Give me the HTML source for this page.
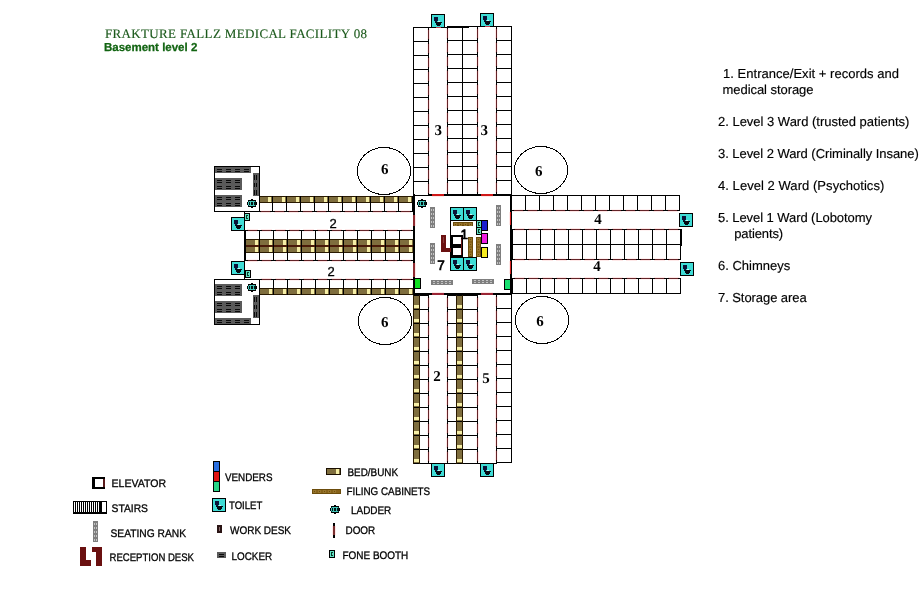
<!DOCTYPE html>
<html lang="en">
<head>
<meta charset="utf-8">
<title>Frakture Fallz Medical Facility 08 - Basement level 2</title>
<style>
html,body{margin:0;padding:0;background:#fff;}
body{width:922px;height:602px;overflow:hidden;}
svg{display:block;will-change:transform;}
svg rect,svg path{shape-rendering:crispEdges;}
svg text{text-rendering:geometricPrecision;}
</style>
</head>
<body>
<svg width="922" height="602" viewBox="0 0 922 602">
<rect x="0" y="0" width="922" height="602" fill="#ffffff"/>
<g id="map">
<rect x="413" y="27" width="16" height="1" fill="#000"/>
<rect x="413" y="41" width="16" height="1" fill="#000"/>
<rect x="413" y="55" width="16" height="1" fill="#000"/>
<rect x="413" y="69" width="16" height="1" fill="#000"/>
<rect x="413" y="83" width="16" height="1" fill="#000"/>
<rect x="413" y="97" width="16" height="1" fill="#000"/>
<rect x="413" y="111" width="16" height="1" fill="#000"/>
<rect x="413" y="125" width="16" height="1" fill="#000"/>
<rect x="413" y="139" width="16" height="1" fill="#000"/>
<rect x="413" y="153" width="16" height="1" fill="#000"/>
<rect x="413" y="167" width="16" height="1" fill="#000"/>
<rect x="413" y="181" width="16" height="1" fill="#000"/>
<rect x="413" y="195" width="16" height="1" fill="#000"/>
<rect x="413" y="27" width="1" height="169" fill="#000"/>
<rect x="428" y="27" width="1" height="169" fill="#000"/>
<rect x="427" y="29" width="1" height="11" fill="#fff2f2"/>
<rect x="429" y="29" width="1" height="11" fill="#ffe8e8"/>
<rect x="428" y="30" width="1" height="9" fill="#642428"/>
<rect x="427" y="43" width="1" height="11" fill="#fff2f2"/>
<rect x="429" y="43" width="1" height="11" fill="#ffe8e8"/>
<rect x="428" y="44" width="1" height="9" fill="#642428"/>
<rect x="427" y="57" width="1" height="11" fill="#fff2f2"/>
<rect x="429" y="57" width="1" height="11" fill="#ffe8e8"/>
<rect x="428" y="58" width="1" height="9" fill="#642428"/>
<rect x="427" y="71" width="1" height="11" fill="#fff2f2"/>
<rect x="429" y="71" width="1" height="11" fill="#ffe8e8"/>
<rect x="428" y="72" width="1" height="9" fill="#642428"/>
<rect x="427" y="85" width="1" height="11" fill="#fff2f2"/>
<rect x="429" y="85" width="1" height="11" fill="#ffe8e8"/>
<rect x="428" y="86" width="1" height="9" fill="#642428"/>
<rect x="427" y="99" width="1" height="11" fill="#fff2f2"/>
<rect x="429" y="99" width="1" height="11" fill="#ffe8e8"/>
<rect x="428" y="100" width="1" height="9" fill="#642428"/>
<rect x="427" y="113" width="1" height="11" fill="#fff2f2"/>
<rect x="429" y="113" width="1" height="11" fill="#ffe8e8"/>
<rect x="428" y="114" width="1" height="9" fill="#642428"/>
<rect x="427" y="127" width="1" height="11" fill="#fff2f2"/>
<rect x="429" y="127" width="1" height="11" fill="#ffe8e8"/>
<rect x="428" y="128" width="1" height="9" fill="#642428"/>
<rect x="427" y="141" width="1" height="11" fill="#fff2f2"/>
<rect x="429" y="141" width="1" height="11" fill="#ffe8e8"/>
<rect x="428" y="142" width="1" height="9" fill="#642428"/>
<rect x="427" y="155" width="1" height="11" fill="#fff2f2"/>
<rect x="429" y="155" width="1" height="11" fill="#ffe8e8"/>
<rect x="428" y="156" width="1" height="9" fill="#642428"/>
<rect x="427" y="169" width="1" height="11" fill="#fff2f2"/>
<rect x="429" y="169" width="1" height="11" fill="#ffe8e8"/>
<rect x="428" y="170" width="1" height="9" fill="#642428"/>
<rect x="427" y="183" width="1" height="11" fill="#fff2f2"/>
<rect x="429" y="183" width="1" height="11" fill="#ffe8e8"/>
<rect x="428" y="184" width="1" height="9" fill="#642428"/>
<rect x="447" y="26" width="31" height="1" fill="#000"/>
<rect x="447" y="40" width="31" height="1" fill="#000"/>
<rect x="447" y="54" width="31" height="1" fill="#000"/>
<rect x="447" y="68" width="31" height="1" fill="#000"/>
<rect x="447" y="82" width="31" height="1" fill="#000"/>
<rect x="447" y="96" width="31" height="1" fill="#000"/>
<rect x="447" y="110" width="31" height="1" fill="#000"/>
<rect x="447" y="124" width="31" height="1" fill="#000"/>
<rect x="447" y="138" width="31" height="1" fill="#000"/>
<rect x="447" y="152" width="31" height="1" fill="#000"/>
<rect x="447" y="166" width="31" height="1" fill="#000"/>
<rect x="447" y="180" width="31" height="1" fill="#000"/>
<rect x="447" y="194" width="31" height="1" fill="#000"/>
<rect x="447" y="27" width="22" height="1" fill="#000"/>
<rect x="447" y="26" width="1" height="169" fill="#000"/>
<rect x="446" y="28" width="1" height="11" fill="#ffe8e8"/>
<rect x="448" y="28" width="1" height="11" fill="#fff2f2"/>
<rect x="447" y="29" width="1" height="9" fill="#642428"/>
<rect x="446" y="42" width="1" height="11" fill="#ffe8e8"/>
<rect x="448" y="42" width="1" height="11" fill="#fff2f2"/>
<rect x="447" y="43" width="1" height="9" fill="#642428"/>
<rect x="446" y="56" width="1" height="11" fill="#ffe8e8"/>
<rect x="448" y="56" width="1" height="11" fill="#fff2f2"/>
<rect x="447" y="57" width="1" height="9" fill="#642428"/>
<rect x="446" y="70" width="1" height="11" fill="#ffe8e8"/>
<rect x="448" y="70" width="1" height="11" fill="#fff2f2"/>
<rect x="447" y="71" width="1" height="9" fill="#642428"/>
<rect x="446" y="84" width="1" height="11" fill="#ffe8e8"/>
<rect x="448" y="84" width="1" height="11" fill="#fff2f2"/>
<rect x="447" y="85" width="1" height="9" fill="#642428"/>
<rect x="446" y="98" width="1" height="11" fill="#ffe8e8"/>
<rect x="448" y="98" width="1" height="11" fill="#fff2f2"/>
<rect x="447" y="99" width="1" height="9" fill="#642428"/>
<rect x="446" y="112" width="1" height="11" fill="#ffe8e8"/>
<rect x="448" y="112" width="1" height="11" fill="#fff2f2"/>
<rect x="447" y="113" width="1" height="9" fill="#642428"/>
<rect x="446" y="126" width="1" height="11" fill="#ffe8e8"/>
<rect x="448" y="126" width="1" height="11" fill="#fff2f2"/>
<rect x="447" y="127" width="1" height="9" fill="#642428"/>
<rect x="446" y="140" width="1" height="11" fill="#ffe8e8"/>
<rect x="448" y="140" width="1" height="11" fill="#fff2f2"/>
<rect x="447" y="141" width="1" height="9" fill="#642428"/>
<rect x="446" y="154" width="1" height="11" fill="#ffe8e8"/>
<rect x="448" y="154" width="1" height="11" fill="#fff2f2"/>
<rect x="447" y="155" width="1" height="9" fill="#642428"/>
<rect x="446" y="168" width="1" height="11" fill="#ffe8e8"/>
<rect x="448" y="168" width="1" height="11" fill="#fff2f2"/>
<rect x="447" y="169" width="1" height="9" fill="#642428"/>
<rect x="446" y="182" width="1" height="11" fill="#ffe8e8"/>
<rect x="448" y="182" width="1" height="11" fill="#fff2f2"/>
<rect x="447" y="183" width="1" height="9" fill="#642428"/>
<rect x="462" y="26" width="1" height="169" fill="#000"/>
<rect x="477" y="26" width="1" height="169" fill="#000"/>
<rect x="476" y="28" width="1" height="11" fill="#fff2f2"/>
<rect x="478" y="28" width="1" height="11" fill="#ffe8e8"/>
<rect x="477" y="29" width="1" height="9" fill="#642428"/>
<rect x="476" y="42" width="1" height="11" fill="#fff2f2"/>
<rect x="478" y="42" width="1" height="11" fill="#ffe8e8"/>
<rect x="477" y="43" width="1" height="9" fill="#642428"/>
<rect x="476" y="56" width="1" height="11" fill="#fff2f2"/>
<rect x="478" y="56" width="1" height="11" fill="#ffe8e8"/>
<rect x="477" y="57" width="1" height="9" fill="#642428"/>
<rect x="476" y="70" width="1" height="11" fill="#fff2f2"/>
<rect x="478" y="70" width="1" height="11" fill="#ffe8e8"/>
<rect x="477" y="71" width="1" height="9" fill="#642428"/>
<rect x="476" y="84" width="1" height="11" fill="#fff2f2"/>
<rect x="478" y="84" width="1" height="11" fill="#ffe8e8"/>
<rect x="477" y="85" width="1" height="9" fill="#642428"/>
<rect x="476" y="98" width="1" height="11" fill="#fff2f2"/>
<rect x="478" y="98" width="1" height="11" fill="#ffe8e8"/>
<rect x="477" y="99" width="1" height="9" fill="#642428"/>
<rect x="476" y="112" width="1" height="11" fill="#fff2f2"/>
<rect x="478" y="112" width="1" height="11" fill="#ffe8e8"/>
<rect x="477" y="113" width="1" height="9" fill="#642428"/>
<rect x="476" y="126" width="1" height="11" fill="#fff2f2"/>
<rect x="478" y="126" width="1" height="11" fill="#ffe8e8"/>
<rect x="477" y="127" width="1" height="9" fill="#642428"/>
<rect x="476" y="140" width="1" height="11" fill="#fff2f2"/>
<rect x="478" y="140" width="1" height="11" fill="#ffe8e8"/>
<rect x="477" y="141" width="1" height="9" fill="#642428"/>
<rect x="476" y="154" width="1" height="11" fill="#fff2f2"/>
<rect x="478" y="154" width="1" height="11" fill="#ffe8e8"/>
<rect x="477" y="155" width="1" height="9" fill="#642428"/>
<rect x="476" y="168" width="1" height="11" fill="#fff2f2"/>
<rect x="478" y="168" width="1" height="11" fill="#ffe8e8"/>
<rect x="477" y="169" width="1" height="9" fill="#642428"/>
<rect x="476" y="182" width="1" height="11" fill="#fff2f2"/>
<rect x="478" y="182" width="1" height="11" fill="#ffe8e8"/>
<rect x="477" y="183" width="1" height="9" fill="#642428"/>
<rect x="496" y="26" width="16" height="1" fill="#000"/>
<rect x="496" y="40" width="16" height="1" fill="#000"/>
<rect x="496" y="54" width="16" height="1" fill="#000"/>
<rect x="496" y="68" width="16" height="1" fill="#000"/>
<rect x="496" y="82" width="16" height="1" fill="#000"/>
<rect x="496" y="96" width="16" height="1" fill="#000"/>
<rect x="496" y="110" width="16" height="1" fill="#000"/>
<rect x="496" y="124" width="16" height="1" fill="#000"/>
<rect x="496" y="138" width="16" height="1" fill="#000"/>
<rect x="496" y="152" width="16" height="1" fill="#000"/>
<rect x="496" y="166" width="16" height="1" fill="#000"/>
<rect x="496" y="180" width="16" height="1" fill="#000"/>
<rect x="496" y="194" width="16" height="1" fill="#000"/>
<rect x="496" y="26" width="1" height="169" fill="#000"/>
<rect x="495" y="28" width="1" height="11" fill="#ffe8e8"/>
<rect x="497" y="28" width="1" height="11" fill="#fff2f2"/>
<rect x="496" y="29" width="1" height="9" fill="#642428"/>
<rect x="495" y="42" width="1" height="11" fill="#ffe8e8"/>
<rect x="497" y="42" width="1" height="11" fill="#fff2f2"/>
<rect x="496" y="43" width="1" height="9" fill="#642428"/>
<rect x="495" y="56" width="1" height="11" fill="#ffe8e8"/>
<rect x="497" y="56" width="1" height="11" fill="#fff2f2"/>
<rect x="496" y="57" width="1" height="9" fill="#642428"/>
<rect x="495" y="70" width="1" height="11" fill="#ffe8e8"/>
<rect x="497" y="70" width="1" height="11" fill="#fff2f2"/>
<rect x="496" y="71" width="1" height="9" fill="#642428"/>
<rect x="495" y="84" width="1" height="11" fill="#ffe8e8"/>
<rect x="497" y="84" width="1" height="11" fill="#fff2f2"/>
<rect x="496" y="85" width="1" height="9" fill="#642428"/>
<rect x="495" y="98" width="1" height="11" fill="#ffe8e8"/>
<rect x="497" y="98" width="1" height="11" fill="#fff2f2"/>
<rect x="496" y="99" width="1" height="9" fill="#642428"/>
<rect x="495" y="112" width="1" height="11" fill="#ffe8e8"/>
<rect x="497" y="112" width="1" height="11" fill="#fff2f2"/>
<rect x="496" y="113" width="1" height="9" fill="#642428"/>
<rect x="495" y="126" width="1" height="11" fill="#ffe8e8"/>
<rect x="497" y="126" width="1" height="11" fill="#fff2f2"/>
<rect x="496" y="127" width="1" height="9" fill="#642428"/>
<rect x="495" y="140" width="1" height="11" fill="#ffe8e8"/>
<rect x="497" y="140" width="1" height="11" fill="#fff2f2"/>
<rect x="496" y="141" width="1" height="9" fill="#642428"/>
<rect x="495" y="154" width="1" height="11" fill="#ffe8e8"/>
<rect x="497" y="154" width="1" height="11" fill="#fff2f2"/>
<rect x="496" y="155" width="1" height="9" fill="#642428"/>
<rect x="495" y="168" width="1" height="11" fill="#ffe8e8"/>
<rect x="497" y="168" width="1" height="11" fill="#fff2f2"/>
<rect x="496" y="169" width="1" height="9" fill="#642428"/>
<rect x="495" y="182" width="1" height="11" fill="#ffe8e8"/>
<rect x="497" y="182" width="1" height="11" fill="#fff2f2"/>
<rect x="496" y="183" width="1" height="9" fill="#642428"/>
<rect x="511" y="26" width="1" height="170" fill="#000"/>
<rect x="413" y="27" width="35" height="1" fill="#000"/>
<rect x="468" y="26" width="44" height="1" fill="#000"/>
<rect x="431" y="14" width="14" height="14" fill="#000"/>
<rect x="432" y="15" width="12" height="12" fill="#3fdcd6"/>
<rect x="434" y="17" width="4" height="4" fill="#0b1238"/>
<rect x="435" y="21" width="2" height="1" fill="#0b1238"/>
<path d="M435 22h7v1h-1v2h-1v1h-3v-1h-1v-2h-1z" fill="#050a14"/>
<rect x="438" y="21" width="2" height="1" fill="#c8f4f0"/>
<rect x="480" y="13" width="14" height="14" fill="#000"/>
<rect x="481" y="14" width="12" height="12" fill="#3fdcd6"/>
<rect x="483" y="16" width="4" height="4" fill="#0b1238"/>
<rect x="484" y="20" width="2" height="1" fill="#0b1238"/>
<path d="M484 21h7v1h-1v2h-1v1h-3v-1h-1v-2h-1z" fill="#050a14"/>
<rect x="487" y="20" width="2" height="1" fill="#c8f4f0"/>
<rect x="436" y="27" width="5" height="1" fill="#c04050"/>
<rect x="485" y="26" width="5" height="1" fill="#c04050"/>
<rect x="414" y="296" width="5" height="13" fill="#7f6e3e"/>
<rect x="414" y="305" width="5" height="3" fill="#f6efa6"/>
<rect x="457" y="296" width="5" height="13" fill="#7f6e3e"/>
<rect x="457" y="305" width="5" height="3" fill="#f6efa6"/>
<rect x="414" y="310" width="5" height="13" fill="#7f6e3e"/>
<rect x="414" y="319" width="5" height="3" fill="#f6efa6"/>
<rect x="457" y="310" width="5" height="13" fill="#7f6e3e"/>
<rect x="457" y="319" width="5" height="3" fill="#f6efa6"/>
<rect x="414" y="324" width="5" height="13" fill="#7f6e3e"/>
<rect x="414" y="333" width="5" height="3" fill="#f6efa6"/>
<rect x="457" y="324" width="5" height="13" fill="#7f6e3e"/>
<rect x="457" y="333" width="5" height="3" fill="#f6efa6"/>
<rect x="414" y="338" width="5" height="13" fill="#7f6e3e"/>
<rect x="414" y="347" width="5" height="3" fill="#f6efa6"/>
<rect x="457" y="338" width="5" height="13" fill="#7f6e3e"/>
<rect x="457" y="347" width="5" height="3" fill="#f6efa6"/>
<rect x="414" y="352" width="5" height="13" fill="#7f6e3e"/>
<rect x="414" y="361" width="5" height="3" fill="#f6efa6"/>
<rect x="457" y="352" width="5" height="13" fill="#7f6e3e"/>
<rect x="457" y="361" width="5" height="3" fill="#f6efa6"/>
<rect x="414" y="366" width="5" height="13" fill="#7f6e3e"/>
<rect x="414" y="375" width="5" height="3" fill="#f6efa6"/>
<rect x="457" y="366" width="5" height="13" fill="#7f6e3e"/>
<rect x="457" y="375" width="5" height="3" fill="#f6efa6"/>
<rect x="414" y="380" width="5" height="13" fill="#7f6e3e"/>
<rect x="414" y="389" width="5" height="3" fill="#f6efa6"/>
<rect x="457" y="380" width="5" height="13" fill="#7f6e3e"/>
<rect x="457" y="389" width="5" height="3" fill="#f6efa6"/>
<rect x="414" y="394" width="5" height="13" fill="#7f6e3e"/>
<rect x="414" y="403" width="5" height="3" fill="#f6efa6"/>
<rect x="457" y="394" width="5" height="13" fill="#7f6e3e"/>
<rect x="457" y="403" width="5" height="3" fill="#f6efa6"/>
<rect x="414" y="408" width="5" height="13" fill="#7f6e3e"/>
<rect x="414" y="417" width="5" height="3" fill="#f6efa6"/>
<rect x="457" y="408" width="5" height="13" fill="#7f6e3e"/>
<rect x="457" y="417" width="5" height="3" fill="#f6efa6"/>
<rect x="414" y="422" width="5" height="13" fill="#7f6e3e"/>
<rect x="414" y="431" width="5" height="3" fill="#f6efa6"/>
<rect x="457" y="422" width="5" height="13" fill="#7f6e3e"/>
<rect x="457" y="431" width="5" height="3" fill="#f6efa6"/>
<rect x="414" y="436" width="5" height="13" fill="#7f6e3e"/>
<rect x="414" y="445" width="5" height="3" fill="#f6efa6"/>
<rect x="457" y="436" width="5" height="13" fill="#7f6e3e"/>
<rect x="457" y="445" width="5" height="3" fill="#f6efa6"/>
<rect x="414" y="450" width="5" height="13" fill="#7f6e3e"/>
<rect x="414" y="459" width="5" height="3" fill="#f6efa6"/>
<rect x="457" y="450" width="5" height="13" fill="#7f6e3e"/>
<rect x="457" y="459" width="5" height="3" fill="#f6efa6"/>
<rect x="413" y="295" width="16" height="1" fill="#000"/>
<rect x="447" y="295" width="31" height="1" fill="#000"/>
<rect x="413" y="309" width="16" height="1" fill="#000"/>
<rect x="447" y="309" width="31" height="1" fill="#000"/>
<rect x="413" y="323" width="16" height="1" fill="#000"/>
<rect x="447" y="323" width="31" height="1" fill="#000"/>
<rect x="413" y="337" width="16" height="1" fill="#000"/>
<rect x="447" y="337" width="31" height="1" fill="#000"/>
<rect x="413" y="351" width="16" height="1" fill="#000"/>
<rect x="447" y="351" width="31" height="1" fill="#000"/>
<rect x="413" y="365" width="16" height="1" fill="#000"/>
<rect x="447" y="365" width="31" height="1" fill="#000"/>
<rect x="413" y="379" width="16" height="1" fill="#000"/>
<rect x="447" y="379" width="31" height="1" fill="#000"/>
<rect x="413" y="393" width="16" height="1" fill="#000"/>
<rect x="447" y="393" width="31" height="1" fill="#000"/>
<rect x="413" y="407" width="16" height="1" fill="#000"/>
<rect x="447" y="407" width="31" height="1" fill="#000"/>
<rect x="413" y="421" width="16" height="1" fill="#000"/>
<rect x="447" y="421" width="31" height="1" fill="#000"/>
<rect x="413" y="435" width="16" height="1" fill="#000"/>
<rect x="447" y="435" width="31" height="1" fill="#000"/>
<rect x="413" y="449" width="16" height="1" fill="#000"/>
<rect x="447" y="449" width="31" height="1" fill="#000"/>
<rect x="413" y="463" width="16" height="1" fill="#000"/>
<rect x="447" y="463" width="31" height="1" fill="#000"/>
<rect x="413" y="295" width="1" height="169" fill="#2a1a00"/>
<rect x="419" y="295" width="1" height="169" fill="#2a1a00"/>
<rect x="428" y="295" width="1" height="169" fill="#000"/>
<rect x="427" y="297" width="1" height="11" fill="#fff2f2"/>
<rect x="429" y="297" width="1" height="11" fill="#ffe8e8"/>
<rect x="428" y="298" width="1" height="9" fill="#642428"/>
<rect x="427" y="311" width="1" height="11" fill="#fff2f2"/>
<rect x="429" y="311" width="1" height="11" fill="#ffe8e8"/>
<rect x="428" y="312" width="1" height="9" fill="#642428"/>
<rect x="427" y="325" width="1" height="11" fill="#fff2f2"/>
<rect x="429" y="325" width="1" height="11" fill="#ffe8e8"/>
<rect x="428" y="326" width="1" height="9" fill="#642428"/>
<rect x="427" y="339" width="1" height="11" fill="#fff2f2"/>
<rect x="429" y="339" width="1" height="11" fill="#ffe8e8"/>
<rect x="428" y="340" width="1" height="9" fill="#642428"/>
<rect x="427" y="353" width="1" height="11" fill="#fff2f2"/>
<rect x="429" y="353" width="1" height="11" fill="#ffe8e8"/>
<rect x="428" y="354" width="1" height="9" fill="#642428"/>
<rect x="427" y="367" width="1" height="11" fill="#fff2f2"/>
<rect x="429" y="367" width="1" height="11" fill="#ffe8e8"/>
<rect x="428" y="368" width="1" height="9" fill="#642428"/>
<rect x="427" y="381" width="1" height="11" fill="#fff2f2"/>
<rect x="429" y="381" width="1" height="11" fill="#ffe8e8"/>
<rect x="428" y="382" width="1" height="9" fill="#642428"/>
<rect x="427" y="395" width="1" height="11" fill="#fff2f2"/>
<rect x="429" y="395" width="1" height="11" fill="#ffe8e8"/>
<rect x="428" y="396" width="1" height="9" fill="#642428"/>
<rect x="427" y="409" width="1" height="11" fill="#fff2f2"/>
<rect x="429" y="409" width="1" height="11" fill="#ffe8e8"/>
<rect x="428" y="410" width="1" height="9" fill="#642428"/>
<rect x="427" y="423" width="1" height="11" fill="#fff2f2"/>
<rect x="429" y="423" width="1" height="11" fill="#ffe8e8"/>
<rect x="428" y="424" width="1" height="9" fill="#642428"/>
<rect x="427" y="437" width="1" height="11" fill="#fff2f2"/>
<rect x="429" y="437" width="1" height="11" fill="#ffe8e8"/>
<rect x="428" y="438" width="1" height="9" fill="#642428"/>
<rect x="427" y="451" width="1" height="11" fill="#fff2f2"/>
<rect x="429" y="451" width="1" height="11" fill="#ffe8e8"/>
<rect x="428" y="452" width="1" height="9" fill="#642428"/>
<rect x="447" y="295" width="1" height="169" fill="#000"/>
<rect x="446" y="297" width="1" height="11" fill="#ffe8e8"/>
<rect x="448" y="297" width="1" height="11" fill="#fff2f2"/>
<rect x="447" y="298" width="1" height="9" fill="#642428"/>
<rect x="446" y="311" width="1" height="11" fill="#ffe8e8"/>
<rect x="448" y="311" width="1" height="11" fill="#fff2f2"/>
<rect x="447" y="312" width="1" height="9" fill="#642428"/>
<rect x="446" y="325" width="1" height="11" fill="#ffe8e8"/>
<rect x="448" y="325" width="1" height="11" fill="#fff2f2"/>
<rect x="447" y="326" width="1" height="9" fill="#642428"/>
<rect x="446" y="339" width="1" height="11" fill="#ffe8e8"/>
<rect x="448" y="339" width="1" height="11" fill="#fff2f2"/>
<rect x="447" y="340" width="1" height="9" fill="#642428"/>
<rect x="446" y="353" width="1" height="11" fill="#ffe8e8"/>
<rect x="448" y="353" width="1" height="11" fill="#fff2f2"/>
<rect x="447" y="354" width="1" height="9" fill="#642428"/>
<rect x="446" y="367" width="1" height="11" fill="#ffe8e8"/>
<rect x="448" y="367" width="1" height="11" fill="#fff2f2"/>
<rect x="447" y="368" width="1" height="9" fill="#642428"/>
<rect x="446" y="381" width="1" height="11" fill="#ffe8e8"/>
<rect x="448" y="381" width="1" height="11" fill="#fff2f2"/>
<rect x="447" y="382" width="1" height="9" fill="#642428"/>
<rect x="446" y="395" width="1" height="11" fill="#ffe8e8"/>
<rect x="448" y="395" width="1" height="11" fill="#fff2f2"/>
<rect x="447" y="396" width="1" height="9" fill="#642428"/>
<rect x="446" y="409" width="1" height="11" fill="#ffe8e8"/>
<rect x="448" y="409" width="1" height="11" fill="#fff2f2"/>
<rect x="447" y="410" width="1" height="9" fill="#642428"/>
<rect x="446" y="423" width="1" height="11" fill="#ffe8e8"/>
<rect x="448" y="423" width="1" height="11" fill="#fff2f2"/>
<rect x="447" y="424" width="1" height="9" fill="#642428"/>
<rect x="446" y="437" width="1" height="11" fill="#ffe8e8"/>
<rect x="448" y="437" width="1" height="11" fill="#fff2f2"/>
<rect x="447" y="438" width="1" height="9" fill="#642428"/>
<rect x="446" y="451" width="1" height="11" fill="#ffe8e8"/>
<rect x="448" y="451" width="1" height="11" fill="#fff2f2"/>
<rect x="447" y="452" width="1" height="9" fill="#642428"/>
<rect x="456" y="295" width="1" height="169" fill="#2a1a00"/>
<rect x="462" y="295" width="1" height="169" fill="#2a1a00"/>
<rect x="477" y="295" width="1" height="169" fill="#000"/>
<rect x="476" y="297" width="1" height="11" fill="#fff2f2"/>
<rect x="478" y="297" width="1" height="11" fill="#ffe8e8"/>
<rect x="477" y="298" width="1" height="9" fill="#642428"/>
<rect x="476" y="311" width="1" height="11" fill="#fff2f2"/>
<rect x="478" y="311" width="1" height="11" fill="#ffe8e8"/>
<rect x="477" y="312" width="1" height="9" fill="#642428"/>
<rect x="476" y="325" width="1" height="11" fill="#fff2f2"/>
<rect x="478" y="325" width="1" height="11" fill="#ffe8e8"/>
<rect x="477" y="326" width="1" height="9" fill="#642428"/>
<rect x="476" y="339" width="1" height="11" fill="#fff2f2"/>
<rect x="478" y="339" width="1" height="11" fill="#ffe8e8"/>
<rect x="477" y="340" width="1" height="9" fill="#642428"/>
<rect x="476" y="353" width="1" height="11" fill="#fff2f2"/>
<rect x="478" y="353" width="1" height="11" fill="#ffe8e8"/>
<rect x="477" y="354" width="1" height="9" fill="#642428"/>
<rect x="476" y="367" width="1" height="11" fill="#fff2f2"/>
<rect x="478" y="367" width="1" height="11" fill="#ffe8e8"/>
<rect x="477" y="368" width="1" height="9" fill="#642428"/>
<rect x="476" y="381" width="1" height="11" fill="#fff2f2"/>
<rect x="478" y="381" width="1" height="11" fill="#ffe8e8"/>
<rect x="477" y="382" width="1" height="9" fill="#642428"/>
<rect x="476" y="395" width="1" height="11" fill="#fff2f2"/>
<rect x="478" y="395" width="1" height="11" fill="#ffe8e8"/>
<rect x="477" y="396" width="1" height="9" fill="#642428"/>
<rect x="476" y="409" width="1" height="11" fill="#fff2f2"/>
<rect x="478" y="409" width="1" height="11" fill="#ffe8e8"/>
<rect x="477" y="410" width="1" height="9" fill="#642428"/>
<rect x="476" y="423" width="1" height="11" fill="#fff2f2"/>
<rect x="478" y="423" width="1" height="11" fill="#ffe8e8"/>
<rect x="477" y="424" width="1" height="9" fill="#642428"/>
<rect x="476" y="437" width="1" height="11" fill="#fff2f2"/>
<rect x="478" y="437" width="1" height="11" fill="#ffe8e8"/>
<rect x="477" y="438" width="1" height="9" fill="#642428"/>
<rect x="476" y="451" width="1" height="11" fill="#fff2f2"/>
<rect x="478" y="451" width="1" height="11" fill="#ffe8e8"/>
<rect x="477" y="452" width="1" height="9" fill="#642428"/>
<rect x="496" y="294" width="16" height="1" fill="#000"/>
<rect x="496" y="308" width="16" height="1" fill="#000"/>
<rect x="496" y="322" width="16" height="1" fill="#000"/>
<rect x="496" y="336" width="16" height="1" fill="#000"/>
<rect x="496" y="350" width="16" height="1" fill="#000"/>
<rect x="496" y="364" width="16" height="1" fill="#000"/>
<rect x="496" y="378" width="16" height="1" fill="#000"/>
<rect x="496" y="392" width="16" height="1" fill="#000"/>
<rect x="496" y="406" width="16" height="1" fill="#000"/>
<rect x="496" y="420" width="16" height="1" fill="#000"/>
<rect x="496" y="434" width="16" height="1" fill="#000"/>
<rect x="496" y="448" width="16" height="1" fill="#000"/>
<rect x="496" y="462" width="16" height="1" fill="#000"/>
<rect x="496" y="294" width="1" height="169" fill="#000"/>
<rect x="495" y="296" width="1" height="11" fill="#ffe8e8"/>
<rect x="497" y="296" width="1" height="11" fill="#fff2f2"/>
<rect x="496" y="297" width="1" height="9" fill="#642428"/>
<rect x="495" y="310" width="1" height="11" fill="#ffe8e8"/>
<rect x="497" y="310" width="1" height="11" fill="#fff2f2"/>
<rect x="496" y="311" width="1" height="9" fill="#642428"/>
<rect x="495" y="324" width="1" height="11" fill="#ffe8e8"/>
<rect x="497" y="324" width="1" height="11" fill="#fff2f2"/>
<rect x="496" y="325" width="1" height="9" fill="#642428"/>
<rect x="495" y="338" width="1" height="11" fill="#ffe8e8"/>
<rect x="497" y="338" width="1" height="11" fill="#fff2f2"/>
<rect x="496" y="339" width="1" height="9" fill="#642428"/>
<rect x="495" y="352" width="1" height="11" fill="#ffe8e8"/>
<rect x="497" y="352" width="1" height="11" fill="#fff2f2"/>
<rect x="496" y="353" width="1" height="9" fill="#642428"/>
<rect x="495" y="366" width="1" height="11" fill="#ffe8e8"/>
<rect x="497" y="366" width="1" height="11" fill="#fff2f2"/>
<rect x="496" y="367" width="1" height="9" fill="#642428"/>
<rect x="495" y="380" width="1" height="11" fill="#ffe8e8"/>
<rect x="497" y="380" width="1" height="11" fill="#fff2f2"/>
<rect x="496" y="381" width="1" height="9" fill="#642428"/>
<rect x="495" y="394" width="1" height="11" fill="#ffe8e8"/>
<rect x="497" y="394" width="1" height="11" fill="#fff2f2"/>
<rect x="496" y="395" width="1" height="9" fill="#642428"/>
<rect x="495" y="408" width="1" height="11" fill="#ffe8e8"/>
<rect x="497" y="408" width="1" height="11" fill="#fff2f2"/>
<rect x="496" y="409" width="1" height="9" fill="#642428"/>
<rect x="495" y="422" width="1" height="11" fill="#ffe8e8"/>
<rect x="497" y="422" width="1" height="11" fill="#fff2f2"/>
<rect x="496" y="423" width="1" height="9" fill="#642428"/>
<rect x="495" y="436" width="1" height="11" fill="#ffe8e8"/>
<rect x="497" y="436" width="1" height="11" fill="#fff2f2"/>
<rect x="496" y="437" width="1" height="9" fill="#642428"/>
<rect x="495" y="450" width="1" height="11" fill="#ffe8e8"/>
<rect x="497" y="450" width="1" height="11" fill="#fff2f2"/>
<rect x="496" y="451" width="1" height="9" fill="#642428"/>
<rect x="511" y="294" width="1" height="169" fill="#000"/>
<rect x="428" y="463" width="20" height="1" fill="#000"/>
<rect x="477" y="463" width="20" height="1" fill="#000"/>
<rect x="431" y="463" width="14" height="14" fill="#000"/>
<rect x="432" y="464" width="12" height="12" fill="#3fdcd6"/>
<rect x="434" y="466" width="4" height="4" fill="#0b1238"/>
<rect x="435" y="470" width="2" height="1" fill="#0b1238"/>
<path d="M435 471h7v1h-1v2h-1v1h-3v-1h-1v-2h-1z" fill="#050a14"/>
<rect x="438" y="470" width="2" height="1" fill="#c8f4f0"/>
<rect x="480" y="463" width="14" height="14" fill="#000"/>
<rect x="481" y="464" width="12" height="12" fill="#3fdcd6"/>
<rect x="483" y="466" width="4" height="4" fill="#0b1238"/>
<rect x="484" y="470" width="2" height="1" fill="#0b1238"/>
<path d="M484 471h7v1h-1v2h-1v1h-3v-1h-1v-2h-1z" fill="#050a14"/>
<rect x="487" y="470" width="2" height="1" fill="#c8f4f0"/>
<rect x="259" y="197" width="13" height="5" fill="#7f6e3e"/>
<rect x="268" y="197" width="3" height="5" fill="#f6efa6"/>
<rect x="273" y="197" width="13" height="5" fill="#7f6e3e"/>
<rect x="282" y="197" width="3" height="5" fill="#f6efa6"/>
<rect x="287" y="197" width="13" height="5" fill="#7f6e3e"/>
<rect x="296" y="197" width="3" height="5" fill="#f6efa6"/>
<rect x="301" y="197" width="13" height="5" fill="#7f6e3e"/>
<rect x="310" y="197" width="3" height="5" fill="#f6efa6"/>
<rect x="315" y="197" width="13" height="5" fill="#7f6e3e"/>
<rect x="324" y="197" width="3" height="5" fill="#f6efa6"/>
<rect x="329" y="197" width="13" height="5" fill="#7f6e3e"/>
<rect x="338" y="197" width="3" height="5" fill="#f6efa6"/>
<rect x="343" y="197" width="13" height="5" fill="#7f6e3e"/>
<rect x="352" y="197" width="3" height="5" fill="#f6efa6"/>
<rect x="357" y="197" width="13" height="5" fill="#7f6e3e"/>
<rect x="366" y="197" width="3" height="5" fill="#f6efa6"/>
<rect x="371" y="197" width="13" height="5" fill="#7f6e3e"/>
<rect x="380" y="197" width="3" height="5" fill="#f6efa6"/>
<rect x="385" y="197" width="13" height="5" fill="#7f6e3e"/>
<rect x="394" y="197" width="3" height="5" fill="#f6efa6"/>
<rect x="399" y="197" width="13" height="5" fill="#7f6e3e"/>
<rect x="408" y="197" width="3" height="5" fill="#f6efa6"/>
<rect x="258" y="196" width="156" height="1" fill="#2a1a00"/>
<rect x="258" y="202" width="156" height="1" fill="#2a1a00"/>
<rect x="258" y="196" width="1" height="16" fill="#000"/>
<rect x="272" y="196" width="1" height="16" fill="#000"/>
<rect x="286" y="196" width="1" height="16" fill="#000"/>
<rect x="300" y="196" width="1" height="16" fill="#000"/>
<rect x="314" y="196" width="1" height="16" fill="#000"/>
<rect x="328" y="196" width="1" height="16" fill="#000"/>
<rect x="342" y="196" width="1" height="16" fill="#000"/>
<rect x="356" y="196" width="1" height="16" fill="#000"/>
<rect x="370" y="196" width="1" height="16" fill="#000"/>
<rect x="384" y="196" width="1" height="16" fill="#000"/>
<rect x="398" y="196" width="1" height="16" fill="#000"/>
<rect x="412" y="196" width="1" height="16" fill="#000"/>
<rect x="258" y="211" width="156" height="1" fill="#000"/>
<rect x="260" y="210" width="11" height="1" fill="#fff2f2"/>
<rect x="260" y="212" width="11" height="1" fill="#ffe8e8"/>
<rect x="261" y="211" width="9" height="1" fill="#642428"/>
<rect x="274" y="210" width="11" height="1" fill="#fff2f2"/>
<rect x="274" y="212" width="11" height="1" fill="#ffe8e8"/>
<rect x="275" y="211" width="9" height="1" fill="#642428"/>
<rect x="288" y="210" width="11" height="1" fill="#fff2f2"/>
<rect x="288" y="212" width="11" height="1" fill="#ffe8e8"/>
<rect x="289" y="211" width="9" height="1" fill="#642428"/>
<rect x="302" y="210" width="11" height="1" fill="#fff2f2"/>
<rect x="302" y="212" width="11" height="1" fill="#ffe8e8"/>
<rect x="303" y="211" width="9" height="1" fill="#642428"/>
<rect x="316" y="210" width="11" height="1" fill="#fff2f2"/>
<rect x="316" y="212" width="11" height="1" fill="#ffe8e8"/>
<rect x="317" y="211" width="9" height="1" fill="#642428"/>
<rect x="330" y="210" width="11" height="1" fill="#fff2f2"/>
<rect x="330" y="212" width="11" height="1" fill="#ffe8e8"/>
<rect x="331" y="211" width="9" height="1" fill="#642428"/>
<rect x="344" y="210" width="11" height="1" fill="#fff2f2"/>
<rect x="344" y="212" width="11" height="1" fill="#ffe8e8"/>
<rect x="345" y="211" width="9" height="1" fill="#642428"/>
<rect x="358" y="210" width="11" height="1" fill="#fff2f2"/>
<rect x="358" y="212" width="11" height="1" fill="#ffe8e8"/>
<rect x="359" y="211" width="9" height="1" fill="#642428"/>
<rect x="372" y="210" width="11" height="1" fill="#fff2f2"/>
<rect x="372" y="212" width="11" height="1" fill="#ffe8e8"/>
<rect x="373" y="211" width="9" height="1" fill="#642428"/>
<rect x="386" y="210" width="11" height="1" fill="#fff2f2"/>
<rect x="386" y="212" width="11" height="1" fill="#ffe8e8"/>
<rect x="387" y="211" width="9" height="1" fill="#642428"/>
<rect x="400" y="210" width="11" height="1" fill="#fff2f2"/>
<rect x="400" y="212" width="11" height="1" fill="#ffe8e8"/>
<rect x="401" y="211" width="9" height="1" fill="#642428"/>
<rect x="246" y="240" width="13" height="5" fill="#7f6e3e"/>
<rect x="255" y="240" width="3" height="5" fill="#f6efa6"/>
<rect x="246" y="247" width="13" height="5" fill="#7f6e3e"/>
<rect x="255" y="247" width="3" height="5" fill="#f6efa6"/>
<rect x="260" y="240" width="13" height="5" fill="#7f6e3e"/>
<rect x="269" y="240" width="3" height="5" fill="#f6efa6"/>
<rect x="260" y="247" width="13" height="5" fill="#7f6e3e"/>
<rect x="269" y="247" width="3" height="5" fill="#f6efa6"/>
<rect x="274" y="240" width="13" height="5" fill="#7f6e3e"/>
<rect x="283" y="240" width="3" height="5" fill="#f6efa6"/>
<rect x="274" y="247" width="13" height="5" fill="#7f6e3e"/>
<rect x="283" y="247" width="3" height="5" fill="#f6efa6"/>
<rect x="288" y="240" width="13" height="5" fill="#7f6e3e"/>
<rect x="297" y="240" width="3" height="5" fill="#f6efa6"/>
<rect x="288" y="247" width="13" height="5" fill="#7f6e3e"/>
<rect x="297" y="247" width="3" height="5" fill="#f6efa6"/>
<rect x="302" y="240" width="13" height="5" fill="#7f6e3e"/>
<rect x="311" y="240" width="3" height="5" fill="#f6efa6"/>
<rect x="302" y="247" width="13" height="5" fill="#7f6e3e"/>
<rect x="311" y="247" width="3" height="5" fill="#f6efa6"/>
<rect x="316" y="240" width="13" height="5" fill="#7f6e3e"/>
<rect x="325" y="240" width="3" height="5" fill="#f6efa6"/>
<rect x="316" y="247" width="13" height="5" fill="#7f6e3e"/>
<rect x="325" y="247" width="3" height="5" fill="#f6efa6"/>
<rect x="330" y="240" width="13" height="5" fill="#7f6e3e"/>
<rect x="339" y="240" width="3" height="5" fill="#f6efa6"/>
<rect x="330" y="247" width="13" height="5" fill="#7f6e3e"/>
<rect x="339" y="247" width="3" height="5" fill="#f6efa6"/>
<rect x="344" y="240" width="13" height="5" fill="#7f6e3e"/>
<rect x="353" y="240" width="3" height="5" fill="#f6efa6"/>
<rect x="344" y="247" width="13" height="5" fill="#7f6e3e"/>
<rect x="353" y="247" width="3" height="5" fill="#f6efa6"/>
<rect x="358" y="240" width="13" height="5" fill="#7f6e3e"/>
<rect x="367" y="240" width="3" height="5" fill="#f6efa6"/>
<rect x="358" y="247" width="13" height="5" fill="#7f6e3e"/>
<rect x="367" y="247" width="3" height="5" fill="#f6efa6"/>
<rect x="372" y="240" width="13" height="5" fill="#7f6e3e"/>
<rect x="381" y="240" width="3" height="5" fill="#f6efa6"/>
<rect x="372" y="247" width="13" height="5" fill="#7f6e3e"/>
<rect x="381" y="247" width="3" height="5" fill="#f6efa6"/>
<rect x="386" y="240" width="13" height="5" fill="#7f6e3e"/>
<rect x="395" y="240" width="3" height="5" fill="#f6efa6"/>
<rect x="386" y="247" width="13" height="5" fill="#7f6e3e"/>
<rect x="395" y="247" width="3" height="5" fill="#f6efa6"/>
<rect x="400" y="240" width="13" height="5" fill="#7f6e3e"/>
<rect x="409" y="240" width="3" height="5" fill="#f6efa6"/>
<rect x="400" y="247" width="13" height="5" fill="#7f6e3e"/>
<rect x="409" y="247" width="3" height="5" fill="#f6efa6"/>
<rect x="245" y="230" width="169" height="1" fill="#000"/>
<rect x="247" y="229" width="11" height="1" fill="#ffe8e8"/>
<rect x="247" y="231" width="11" height="1" fill="#fff2f2"/>
<rect x="248" y="230" width="9" height="1" fill="#642428"/>
<rect x="261" y="229" width="11" height="1" fill="#ffe8e8"/>
<rect x="261" y="231" width="11" height="1" fill="#fff2f2"/>
<rect x="262" y="230" width="9" height="1" fill="#642428"/>
<rect x="275" y="229" width="11" height="1" fill="#ffe8e8"/>
<rect x="275" y="231" width="11" height="1" fill="#fff2f2"/>
<rect x="276" y="230" width="9" height="1" fill="#642428"/>
<rect x="289" y="229" width="11" height="1" fill="#ffe8e8"/>
<rect x="289" y="231" width="11" height="1" fill="#fff2f2"/>
<rect x="290" y="230" width="9" height="1" fill="#642428"/>
<rect x="303" y="229" width="11" height="1" fill="#ffe8e8"/>
<rect x="303" y="231" width="11" height="1" fill="#fff2f2"/>
<rect x="304" y="230" width="9" height="1" fill="#642428"/>
<rect x="317" y="229" width="11" height="1" fill="#ffe8e8"/>
<rect x="317" y="231" width="11" height="1" fill="#fff2f2"/>
<rect x="318" y="230" width="9" height="1" fill="#642428"/>
<rect x="331" y="229" width="11" height="1" fill="#ffe8e8"/>
<rect x="331" y="231" width="11" height="1" fill="#fff2f2"/>
<rect x="332" y="230" width="9" height="1" fill="#642428"/>
<rect x="345" y="229" width="11" height="1" fill="#ffe8e8"/>
<rect x="345" y="231" width="11" height="1" fill="#fff2f2"/>
<rect x="346" y="230" width="9" height="1" fill="#642428"/>
<rect x="359" y="229" width="11" height="1" fill="#ffe8e8"/>
<rect x="359" y="231" width="11" height="1" fill="#fff2f2"/>
<rect x="360" y="230" width="9" height="1" fill="#642428"/>
<rect x="373" y="229" width="11" height="1" fill="#ffe8e8"/>
<rect x="373" y="231" width="11" height="1" fill="#fff2f2"/>
<rect x="374" y="230" width="9" height="1" fill="#642428"/>
<rect x="387" y="229" width="11" height="1" fill="#ffe8e8"/>
<rect x="387" y="231" width="11" height="1" fill="#fff2f2"/>
<rect x="388" y="230" width="9" height="1" fill="#642428"/>
<rect x="401" y="229" width="11" height="1" fill="#ffe8e8"/>
<rect x="401" y="231" width="11" height="1" fill="#fff2f2"/>
<rect x="402" y="230" width="9" height="1" fill="#642428"/>
<rect x="245" y="239" width="169" height="1" fill="#2a1a00"/>
<rect x="245" y="245" width="169" height="1" fill="#4a1a08"/>
<rect x="245" y="246" width="169" height="1" fill="#4a1a08"/>
<rect x="245" y="252" width="169" height="1" fill="#2a1a00"/>
<rect x="245" y="260" width="169" height="1" fill="#000"/>
<rect x="247" y="259" width="11" height="1" fill="#fff2f2"/>
<rect x="247" y="261" width="11" height="1" fill="#ffe8e8"/>
<rect x="248" y="260" width="9" height="1" fill="#642428"/>
<rect x="261" y="259" width="11" height="1" fill="#fff2f2"/>
<rect x="261" y="261" width="11" height="1" fill="#ffe8e8"/>
<rect x="262" y="260" width="9" height="1" fill="#642428"/>
<rect x="275" y="259" width="11" height="1" fill="#fff2f2"/>
<rect x="275" y="261" width="11" height="1" fill="#ffe8e8"/>
<rect x="276" y="260" width="9" height="1" fill="#642428"/>
<rect x="289" y="259" width="11" height="1" fill="#fff2f2"/>
<rect x="289" y="261" width="11" height="1" fill="#ffe8e8"/>
<rect x="290" y="260" width="9" height="1" fill="#642428"/>
<rect x="303" y="259" width="11" height="1" fill="#fff2f2"/>
<rect x="303" y="261" width="11" height="1" fill="#ffe8e8"/>
<rect x="304" y="260" width="9" height="1" fill="#642428"/>
<rect x="317" y="259" width="11" height="1" fill="#fff2f2"/>
<rect x="317" y="261" width="11" height="1" fill="#ffe8e8"/>
<rect x="318" y="260" width="9" height="1" fill="#642428"/>
<rect x="331" y="259" width="11" height="1" fill="#fff2f2"/>
<rect x="331" y="261" width="11" height="1" fill="#ffe8e8"/>
<rect x="332" y="260" width="9" height="1" fill="#642428"/>
<rect x="345" y="259" width="11" height="1" fill="#fff2f2"/>
<rect x="345" y="261" width="11" height="1" fill="#ffe8e8"/>
<rect x="346" y="260" width="9" height="1" fill="#642428"/>
<rect x="359" y="259" width="11" height="1" fill="#fff2f2"/>
<rect x="359" y="261" width="11" height="1" fill="#ffe8e8"/>
<rect x="360" y="260" width="9" height="1" fill="#642428"/>
<rect x="373" y="259" width="11" height="1" fill="#fff2f2"/>
<rect x="373" y="261" width="11" height="1" fill="#ffe8e8"/>
<rect x="374" y="260" width="9" height="1" fill="#642428"/>
<rect x="387" y="259" width="11" height="1" fill="#fff2f2"/>
<rect x="387" y="261" width="11" height="1" fill="#ffe8e8"/>
<rect x="388" y="260" width="9" height="1" fill="#642428"/>
<rect x="401" y="259" width="11" height="1" fill="#fff2f2"/>
<rect x="401" y="261" width="11" height="1" fill="#ffe8e8"/>
<rect x="402" y="260" width="9" height="1" fill="#642428"/>
<rect x="245" y="230" width="1" height="31" fill="#000"/>
<rect x="259" y="230" width="1" height="31" fill="#000"/>
<rect x="273" y="230" width="1" height="31" fill="#000"/>
<rect x="287" y="230" width="1" height="31" fill="#000"/>
<rect x="301" y="230" width="1" height="31" fill="#000"/>
<rect x="315" y="230" width="1" height="31" fill="#000"/>
<rect x="329" y="230" width="1" height="31" fill="#000"/>
<rect x="343" y="230" width="1" height="31" fill="#000"/>
<rect x="357" y="230" width="1" height="31" fill="#000"/>
<rect x="371" y="230" width="1" height="31" fill="#000"/>
<rect x="385" y="230" width="1" height="31" fill="#000"/>
<rect x="399" y="230" width="1" height="31" fill="#000"/>
<rect x="413" y="230" width="1" height="31" fill="#000"/>
<rect x="244" y="211" width="1" height="69" fill="#000"/>
<rect x="245" y="230" width="1" height="31" fill="#000"/>
<rect x="260" y="289" width="13" height="5" fill="#7f6e3e"/>
<rect x="269" y="289" width="3" height="5" fill="#f6efa6"/>
<rect x="274" y="289" width="13" height="5" fill="#7f6e3e"/>
<rect x="283" y="289" width="3" height="5" fill="#f6efa6"/>
<rect x="288" y="289" width="13" height="5" fill="#7f6e3e"/>
<rect x="297" y="289" width="3" height="5" fill="#f6efa6"/>
<rect x="302" y="289" width="13" height="5" fill="#7f6e3e"/>
<rect x="311" y="289" width="3" height="5" fill="#f6efa6"/>
<rect x="316" y="289" width="13" height="5" fill="#7f6e3e"/>
<rect x="325" y="289" width="3" height="5" fill="#f6efa6"/>
<rect x="330" y="289" width="13" height="5" fill="#7f6e3e"/>
<rect x="339" y="289" width="3" height="5" fill="#f6efa6"/>
<rect x="344" y="289" width="13" height="5" fill="#7f6e3e"/>
<rect x="353" y="289" width="3" height="5" fill="#f6efa6"/>
<rect x="358" y="289" width="13" height="5" fill="#7f6e3e"/>
<rect x="367" y="289" width="3" height="5" fill="#f6efa6"/>
<rect x="372" y="289" width="13" height="5" fill="#7f6e3e"/>
<rect x="381" y="289" width="3" height="5" fill="#f6efa6"/>
<rect x="386" y="289" width="13" height="5" fill="#7f6e3e"/>
<rect x="395" y="289" width="3" height="5" fill="#f6efa6"/>
<rect x="400" y="289" width="13" height="5" fill="#7f6e3e"/>
<rect x="409" y="289" width="3" height="5" fill="#f6efa6"/>
<rect x="258" y="279" width="156" height="1" fill="#000"/>
<rect x="261" y="278" width="11" height="1" fill="#ffe8e8"/>
<rect x="261" y="280" width="11" height="1" fill="#fff2f2"/>
<rect x="262" y="279" width="9" height="1" fill="#642428"/>
<rect x="275" y="278" width="11" height="1" fill="#ffe8e8"/>
<rect x="275" y="280" width="11" height="1" fill="#fff2f2"/>
<rect x="276" y="279" width="9" height="1" fill="#642428"/>
<rect x="289" y="278" width="11" height="1" fill="#ffe8e8"/>
<rect x="289" y="280" width="11" height="1" fill="#fff2f2"/>
<rect x="290" y="279" width="9" height="1" fill="#642428"/>
<rect x="303" y="278" width="11" height="1" fill="#ffe8e8"/>
<rect x="303" y="280" width="11" height="1" fill="#fff2f2"/>
<rect x="304" y="279" width="9" height="1" fill="#642428"/>
<rect x="317" y="278" width="11" height="1" fill="#ffe8e8"/>
<rect x="317" y="280" width="11" height="1" fill="#fff2f2"/>
<rect x="318" y="279" width="9" height="1" fill="#642428"/>
<rect x="331" y="278" width="11" height="1" fill="#ffe8e8"/>
<rect x="331" y="280" width="11" height="1" fill="#fff2f2"/>
<rect x="332" y="279" width="9" height="1" fill="#642428"/>
<rect x="345" y="278" width="11" height="1" fill="#ffe8e8"/>
<rect x="345" y="280" width="11" height="1" fill="#fff2f2"/>
<rect x="346" y="279" width="9" height="1" fill="#642428"/>
<rect x="359" y="278" width="11" height="1" fill="#ffe8e8"/>
<rect x="359" y="280" width="11" height="1" fill="#fff2f2"/>
<rect x="360" y="279" width="9" height="1" fill="#642428"/>
<rect x="373" y="278" width="11" height="1" fill="#ffe8e8"/>
<rect x="373" y="280" width="11" height="1" fill="#fff2f2"/>
<rect x="374" y="279" width="9" height="1" fill="#642428"/>
<rect x="387" y="278" width="11" height="1" fill="#ffe8e8"/>
<rect x="387" y="280" width="11" height="1" fill="#fff2f2"/>
<rect x="388" y="279" width="9" height="1" fill="#642428"/>
<rect x="401" y="278" width="11" height="1" fill="#ffe8e8"/>
<rect x="401" y="280" width="11" height="1" fill="#fff2f2"/>
<rect x="402" y="279" width="9" height="1" fill="#642428"/>
<rect x="258" y="288" width="156" height="1" fill="#2a1a00"/>
<rect x="258" y="294" width="156" height="1" fill="#2a1a00"/>
<rect x="259" y="279" width="1" height="16" fill="#000"/>
<rect x="273" y="279" width="1" height="16" fill="#000"/>
<rect x="287" y="279" width="1" height="16" fill="#000"/>
<rect x="301" y="279" width="1" height="16" fill="#000"/>
<rect x="315" y="279" width="1" height="16" fill="#000"/>
<rect x="329" y="279" width="1" height="16" fill="#000"/>
<rect x="343" y="279" width="1" height="16" fill="#000"/>
<rect x="357" y="279" width="1" height="16" fill="#000"/>
<rect x="371" y="279" width="1" height="16" fill="#000"/>
<rect x="385" y="279" width="1" height="16" fill="#000"/>
<rect x="399" y="279" width="1" height="16" fill="#000"/>
<rect x="413" y="279" width="1" height="16" fill="#000"/>
<rect x="258" y="279" width="1" height="16" fill="#000"/>
<rect x="214" y="166" width="46" height="46" fill="#000"/>
<rect x="215" y="167" width="44" height="44" fill="#fff"/>
<rect x="214" y="279" width="46" height="46" fill="#000"/>
<rect x="215" y="280" width="44" height="44" fill="#fff"/>
<rect x="215" y="167" width="9" height="6" fill="#5a5a5a"/>
<rect x="217" y="169" width="5" height="1" fill="#0a0a0a"/>
<rect x="217" y="171" width="5" height="1" fill="#0a0a0a"/>
<rect x="224" y="167" width="9" height="6" fill="#5a5a5a"/>
<rect x="226" y="169" width="5" height="1" fill="#0a0a0a"/>
<rect x="226" y="171" width="5" height="1" fill="#0a0a0a"/>
<rect x="233" y="167" width="9" height="6" fill="#5a5a5a"/>
<rect x="235" y="169" width="5" height="1" fill="#0a0a0a"/>
<rect x="235" y="171" width="5" height="1" fill="#0a0a0a"/>
<rect x="242" y="167" width="9" height="6" fill="#5a5a5a"/>
<rect x="244" y="169" width="5" height="1" fill="#0a0a0a"/>
<rect x="244" y="171" width="5" height="1" fill="#0a0a0a"/>
<rect x="215" y="178" width="9" height="6" fill="#5a5a5a"/>
<rect x="217" y="180" width="5" height="1" fill="#0a0a0a"/>
<rect x="217" y="182" width="5" height="1" fill="#0a0a0a"/>
<rect x="215" y="184" width="9" height="6" fill="#5a5a5a"/>
<rect x="217" y="186" width="5" height="1" fill="#0a0a0a"/>
<rect x="217" y="188" width="5" height="1" fill="#0a0a0a"/>
<rect x="215" y="195" width="9" height="6" fill="#5a5a5a"/>
<rect x="217" y="197" width="5" height="1" fill="#0a0a0a"/>
<rect x="217" y="199" width="5" height="1" fill="#0a0a0a"/>
<rect x="215" y="201" width="9" height="6" fill="#5a5a5a"/>
<rect x="217" y="203" width="5" height="1" fill="#0a0a0a"/>
<rect x="217" y="205" width="5" height="1" fill="#0a0a0a"/>
<rect x="224" y="178" width="9" height="6" fill="#5a5a5a"/>
<rect x="226" y="180" width="5" height="1" fill="#0a0a0a"/>
<rect x="226" y="182" width="5" height="1" fill="#0a0a0a"/>
<rect x="224" y="184" width="9" height="6" fill="#5a5a5a"/>
<rect x="226" y="186" width="5" height="1" fill="#0a0a0a"/>
<rect x="226" y="188" width="5" height="1" fill="#0a0a0a"/>
<rect x="224" y="195" width="9" height="6" fill="#5a5a5a"/>
<rect x="226" y="197" width="5" height="1" fill="#0a0a0a"/>
<rect x="226" y="199" width="5" height="1" fill="#0a0a0a"/>
<rect x="224" y="201" width="9" height="6" fill="#5a5a5a"/>
<rect x="226" y="203" width="5" height="1" fill="#0a0a0a"/>
<rect x="226" y="205" width="5" height="1" fill="#0a0a0a"/>
<rect x="233" y="178" width="9" height="6" fill="#5a5a5a"/>
<rect x="235" y="180" width="5" height="1" fill="#0a0a0a"/>
<rect x="235" y="182" width="5" height="1" fill="#0a0a0a"/>
<rect x="233" y="184" width="9" height="6" fill="#5a5a5a"/>
<rect x="235" y="186" width="5" height="1" fill="#0a0a0a"/>
<rect x="235" y="188" width="5" height="1" fill="#0a0a0a"/>
<rect x="233" y="195" width="9" height="6" fill="#5a5a5a"/>
<rect x="235" y="197" width="5" height="1" fill="#0a0a0a"/>
<rect x="235" y="199" width="5" height="1" fill="#0a0a0a"/>
<rect x="233" y="201" width="9" height="6" fill="#5a5a5a"/>
<rect x="235" y="203" width="5" height="1" fill="#0a0a0a"/>
<rect x="235" y="205" width="5" height="1" fill="#0a0a0a"/>
<rect x="253" y="173.0" width="6" height="7.5" fill="#5a5a5a"/>
<rect x="254" y="175.0" width="1" height="4.5" fill="#0a0a0a"/>
<rect x="256" y="175.0" width="1" height="4.5" fill="#0a0a0a"/>
<rect x="253" y="180.5" width="6" height="7.5" fill="#5a5a5a"/>
<rect x="254" y="182.5" width="1" height="4.5" fill="#0a0a0a"/>
<rect x="256" y="182.5" width="1" height="4.5" fill="#0a0a0a"/>
<rect x="253" y="188.0" width="6" height="7.5" fill="#5a5a5a"/>
<rect x="254" y="190.0" width="1" height="4.5" fill="#0a0a0a"/>
<rect x="256" y="190.0" width="1" height="4.5" fill="#0a0a0a"/>
<rect x="215" y="284" width="9" height="6" fill="#5a5a5a"/>
<rect x="217" y="286" width="5" height="1" fill="#0a0a0a"/>
<rect x="217" y="288" width="5" height="1" fill="#0a0a0a"/>
<rect x="215" y="290" width="9" height="6" fill="#5a5a5a"/>
<rect x="217" y="292" width="5" height="1" fill="#0a0a0a"/>
<rect x="217" y="294" width="5" height="1" fill="#0a0a0a"/>
<rect x="215" y="301" width="9" height="6" fill="#5a5a5a"/>
<rect x="217" y="303" width="5" height="1" fill="#0a0a0a"/>
<rect x="217" y="305" width="5" height="1" fill="#0a0a0a"/>
<rect x="215" y="307" width="9" height="6" fill="#5a5a5a"/>
<rect x="217" y="309" width="5" height="1" fill="#0a0a0a"/>
<rect x="217" y="311" width="5" height="1" fill="#0a0a0a"/>
<rect x="224" y="284" width="9" height="6" fill="#5a5a5a"/>
<rect x="226" y="286" width="5" height="1" fill="#0a0a0a"/>
<rect x="226" y="288" width="5" height="1" fill="#0a0a0a"/>
<rect x="224" y="290" width="9" height="6" fill="#5a5a5a"/>
<rect x="226" y="292" width="5" height="1" fill="#0a0a0a"/>
<rect x="226" y="294" width="5" height="1" fill="#0a0a0a"/>
<rect x="224" y="301" width="9" height="6" fill="#5a5a5a"/>
<rect x="226" y="303" width="5" height="1" fill="#0a0a0a"/>
<rect x="226" y="305" width="5" height="1" fill="#0a0a0a"/>
<rect x="224" y="307" width="9" height="6" fill="#5a5a5a"/>
<rect x="226" y="309" width="5" height="1" fill="#0a0a0a"/>
<rect x="226" y="311" width="5" height="1" fill="#0a0a0a"/>
<rect x="233" y="284" width="9" height="6" fill="#5a5a5a"/>
<rect x="235" y="286" width="5" height="1" fill="#0a0a0a"/>
<rect x="235" y="288" width="5" height="1" fill="#0a0a0a"/>
<rect x="233" y="290" width="9" height="6" fill="#5a5a5a"/>
<rect x="235" y="292" width="5" height="1" fill="#0a0a0a"/>
<rect x="235" y="294" width="5" height="1" fill="#0a0a0a"/>
<rect x="233" y="301" width="9" height="6" fill="#5a5a5a"/>
<rect x="235" y="303" width="5" height="1" fill="#0a0a0a"/>
<rect x="235" y="305" width="5" height="1" fill="#0a0a0a"/>
<rect x="233" y="307" width="9" height="6" fill="#5a5a5a"/>
<rect x="235" y="309" width="5" height="1" fill="#0a0a0a"/>
<rect x="235" y="311" width="5" height="1" fill="#0a0a0a"/>
<rect x="215" y="318" width="9" height="6" fill="#5a5a5a"/>
<rect x="217" y="320" width="5" height="1" fill="#0a0a0a"/>
<rect x="217" y="322" width="5" height="1" fill="#0a0a0a"/>
<rect x="224" y="318" width="9" height="6" fill="#5a5a5a"/>
<rect x="226" y="320" width="5" height="1" fill="#0a0a0a"/>
<rect x="226" y="322" width="5" height="1" fill="#0a0a0a"/>
<rect x="233" y="318" width="9" height="6" fill="#5a5a5a"/>
<rect x="235" y="320" width="5" height="1" fill="#0a0a0a"/>
<rect x="235" y="322" width="5" height="1" fill="#0a0a0a"/>
<rect x="242" y="318" width="9" height="6" fill="#5a5a5a"/>
<rect x="244" y="320" width="5" height="1" fill="#0a0a0a"/>
<rect x="244" y="322" width="5" height="1" fill="#0a0a0a"/>
<rect x="253" y="295.0" width="6" height="7.5" fill="#5a5a5a"/>
<rect x="254" y="297.0" width="1" height="4.5" fill="#0a0a0a"/>
<rect x="256" y="297.0" width="1" height="4.5" fill="#0a0a0a"/>
<rect x="253" y="302.5" width="6" height="7.5" fill="#5a5a5a"/>
<rect x="254" y="304.5" width="1" height="4.5" fill="#0a0a0a"/>
<rect x="256" y="304.5" width="1" height="4.5" fill="#0a0a0a"/>
<rect x="253" y="310.0" width="6" height="7.5" fill="#5a5a5a"/>
<rect x="254" y="312.0" width="1" height="4.5" fill="#0a0a0a"/>
<rect x="256" y="312.0" width="1" height="4.5" fill="#0a0a0a"/>
<rect x="251" y="199" width="2" height="1" fill="#000"/>
<rect x="251" y="207" width="2" height="1" fill="#000"/>
<rect x="248" y="200" width="8" height="1" fill="#000"/>
<rect x="248" y="206" width="8" height="1" fill="#000"/>
<rect x="248" y="201" width="8" height="5" fill="#45c8bc"/>
<rect x="247" y="202" width="1" height="3" fill="#000"/>
<rect x="256" y="202" width="1" height="3" fill="#000"/>
<rect x="248" y="201" width="1" height="1" fill="#0a3a36"/>
<rect x="255" y="201" width="1" height="1" fill="#0a3a36"/>
<rect x="248" y="205" width="1" height="1" fill="#0a3a36"/>
<rect x="255" y="205" width="1" height="1" fill="#0a3a36"/>
<rect x="249" y="202" width="1" height="3" fill="#021614"/>
<rect x="251" y="202" width="2" height="3" fill="#021614"/>
<rect x="254" y="202" width="2" height="3" fill="#021614"/>
<rect x="251" y="283" width="2" height="1" fill="#000"/>
<rect x="251" y="291" width="2" height="1" fill="#000"/>
<rect x="248" y="284" width="8" height="1" fill="#000"/>
<rect x="248" y="290" width="8" height="1" fill="#000"/>
<rect x="248" y="285" width="8" height="5" fill="#45c8bc"/>
<rect x="247" y="286" width="1" height="3" fill="#000"/>
<rect x="256" y="286" width="1" height="3" fill="#000"/>
<rect x="248" y="285" width="1" height="1" fill="#0a3a36"/>
<rect x="255" y="285" width="1" height="1" fill="#0a3a36"/>
<rect x="248" y="289" width="1" height="1" fill="#0a3a36"/>
<rect x="255" y="289" width="1" height="1" fill="#0a3a36"/>
<rect x="249" y="286" width="1" height="3" fill="#021614"/>
<rect x="251" y="286" width="2" height="3" fill="#021614"/>
<rect x="254" y="286" width="2" height="3" fill="#021614"/>
<rect x="231" y="217" width="14" height="14" fill="#000"/>
<rect x="232" y="218" width="12" height="12" fill="#3fdcd6"/>
<rect x="234" y="220" width="4" height="4" fill="#0b1238"/>
<rect x="235" y="224" width="2" height="1" fill="#0b1238"/>
<path d="M235 225h7v1h-1v2h-1v1h-3v-1h-1v-2h-1z" fill="#050a14"/>
<rect x="238" y="224" width="2" height="1" fill="#c8f4f0"/>
<rect x="231" y="261" width="14" height="14" fill="#000"/>
<rect x="232" y="262" width="12" height="12" fill="#3fdcd6"/>
<rect x="234" y="264" width="4" height="4" fill="#0b1238"/>
<rect x="235" y="268" width="2" height="1" fill="#0b1238"/>
<path d="M235 269h7v1h-1v2h-1v1h-3v-1h-1v-2h-1z" fill="#050a14"/>
<rect x="238" y="268" width="2" height="1" fill="#c8f4f0"/>
<rect x="244" y="213" width="6" height="8" fill="#000"/>
<rect x="245" y="214" width="4" height="6" fill="#62e2c4"/>
<rect x="246" y="215" width="2" height="1" fill="#0a3a2a"/>
<rect x="246" y="215" width="1" height="4" fill="#0a3a2a"/>
<rect x="246" y="218" width="2" height="1" fill="#0a3a2a"/>
<rect x="245" y="270" width="6" height="8" fill="#000"/>
<rect x="246" y="271" width="4" height="6" fill="#62e2c4"/>
<rect x="247" y="272" width="2" height="1" fill="#0a3a2a"/>
<rect x="247" y="272" width="1" height="4" fill="#0a3a2a"/>
<rect x="247" y="275" width="2" height="1" fill="#0a3a2a"/>
<rect x="511" y="195" width="169" height="1" fill="#000"/>
<rect x="511" y="195" width="1" height="16" fill="#000"/>
<rect x="525" y="195" width="1" height="16" fill="#000"/>
<rect x="539" y="195" width="1" height="16" fill="#000"/>
<rect x="553" y="195" width="1" height="16" fill="#000"/>
<rect x="567" y="195" width="1" height="16" fill="#000"/>
<rect x="581" y="195" width="1" height="16" fill="#000"/>
<rect x="595" y="195" width="1" height="16" fill="#000"/>
<rect x="609" y="195" width="1" height="16" fill="#000"/>
<rect x="623" y="195" width="1" height="16" fill="#000"/>
<rect x="637" y="195" width="1" height="16" fill="#000"/>
<rect x="651" y="195" width="1" height="16" fill="#000"/>
<rect x="665" y="195" width="1" height="16" fill="#000"/>
<rect x="679" y="195" width="1" height="16" fill="#000"/>
<rect x="511" y="210" width="169" height="1" fill="#000"/>
<rect x="513" y="209" width="11" height="1" fill="#fff2f2"/>
<rect x="513" y="211" width="11" height="1" fill="#ffe8e8"/>
<rect x="514" y="210" width="9" height="1" fill="#642428"/>
<rect x="527" y="209" width="11" height="1" fill="#fff2f2"/>
<rect x="527" y="211" width="11" height="1" fill="#ffe8e8"/>
<rect x="528" y="210" width="9" height="1" fill="#642428"/>
<rect x="541" y="209" width="11" height="1" fill="#fff2f2"/>
<rect x="541" y="211" width="11" height="1" fill="#ffe8e8"/>
<rect x="542" y="210" width="9" height="1" fill="#642428"/>
<rect x="555" y="209" width="11" height="1" fill="#fff2f2"/>
<rect x="555" y="211" width="11" height="1" fill="#ffe8e8"/>
<rect x="556" y="210" width="9" height="1" fill="#642428"/>
<rect x="569" y="209" width="11" height="1" fill="#fff2f2"/>
<rect x="569" y="211" width="11" height="1" fill="#ffe8e8"/>
<rect x="570" y="210" width="9" height="1" fill="#642428"/>
<rect x="583" y="209" width="11" height="1" fill="#fff2f2"/>
<rect x="583" y="211" width="11" height="1" fill="#ffe8e8"/>
<rect x="584" y="210" width="9" height="1" fill="#642428"/>
<rect x="597" y="209" width="11" height="1" fill="#fff2f2"/>
<rect x="597" y="211" width="11" height="1" fill="#ffe8e8"/>
<rect x="598" y="210" width="9" height="1" fill="#642428"/>
<rect x="611" y="209" width="11" height="1" fill="#fff2f2"/>
<rect x="611" y="211" width="11" height="1" fill="#ffe8e8"/>
<rect x="612" y="210" width="9" height="1" fill="#642428"/>
<rect x="625" y="209" width="11" height="1" fill="#fff2f2"/>
<rect x="625" y="211" width="11" height="1" fill="#ffe8e8"/>
<rect x="626" y="210" width="9" height="1" fill="#642428"/>
<rect x="639" y="209" width="11" height="1" fill="#fff2f2"/>
<rect x="639" y="211" width="11" height="1" fill="#ffe8e8"/>
<rect x="640" y="210" width="9" height="1" fill="#642428"/>
<rect x="653" y="209" width="11" height="1" fill="#fff2f2"/>
<rect x="653" y="211" width="11" height="1" fill="#ffe8e8"/>
<rect x="654" y="210" width="9" height="1" fill="#642428"/>
<rect x="667" y="209" width="11" height="1" fill="#fff2f2"/>
<rect x="667" y="211" width="11" height="1" fill="#ffe8e8"/>
<rect x="668" y="210" width="9" height="1" fill="#642428"/>
<rect x="512" y="229" width="169" height="1" fill="#000"/>
<rect x="514" y="228" width="11" height="1" fill="#ffe8e8"/>
<rect x="514" y="230" width="11" height="1" fill="#fff2f2"/>
<rect x="515" y="229" width="9" height="1" fill="#642428"/>
<rect x="528" y="228" width="11" height="1" fill="#ffe8e8"/>
<rect x="528" y="230" width="11" height="1" fill="#fff2f2"/>
<rect x="529" y="229" width="9" height="1" fill="#642428"/>
<rect x="542" y="228" width="11" height="1" fill="#ffe8e8"/>
<rect x="542" y="230" width="11" height="1" fill="#fff2f2"/>
<rect x="543" y="229" width="9" height="1" fill="#642428"/>
<rect x="556" y="228" width="11" height="1" fill="#ffe8e8"/>
<rect x="556" y="230" width="11" height="1" fill="#fff2f2"/>
<rect x="557" y="229" width="9" height="1" fill="#642428"/>
<rect x="570" y="228" width="11" height="1" fill="#ffe8e8"/>
<rect x="570" y="230" width="11" height="1" fill="#fff2f2"/>
<rect x="571" y="229" width="9" height="1" fill="#642428"/>
<rect x="584" y="228" width="11" height="1" fill="#ffe8e8"/>
<rect x="584" y="230" width="11" height="1" fill="#fff2f2"/>
<rect x="585" y="229" width="9" height="1" fill="#642428"/>
<rect x="598" y="228" width="11" height="1" fill="#ffe8e8"/>
<rect x="598" y="230" width="11" height="1" fill="#fff2f2"/>
<rect x="599" y="229" width="9" height="1" fill="#642428"/>
<rect x="612" y="228" width="11" height="1" fill="#ffe8e8"/>
<rect x="612" y="230" width="11" height="1" fill="#fff2f2"/>
<rect x="613" y="229" width="9" height="1" fill="#642428"/>
<rect x="626" y="228" width="11" height="1" fill="#ffe8e8"/>
<rect x="626" y="230" width="11" height="1" fill="#fff2f2"/>
<rect x="627" y="229" width="9" height="1" fill="#642428"/>
<rect x="640" y="228" width="11" height="1" fill="#ffe8e8"/>
<rect x="640" y="230" width="11" height="1" fill="#fff2f2"/>
<rect x="641" y="229" width="9" height="1" fill="#642428"/>
<rect x="654" y="228" width="11" height="1" fill="#ffe8e8"/>
<rect x="654" y="230" width="11" height="1" fill="#fff2f2"/>
<rect x="655" y="229" width="9" height="1" fill="#642428"/>
<rect x="668" y="228" width="11" height="1" fill="#ffe8e8"/>
<rect x="668" y="230" width="11" height="1" fill="#fff2f2"/>
<rect x="669" y="229" width="9" height="1" fill="#642428"/>
<rect x="512" y="244" width="169" height="1" fill="#000"/>
<rect x="512" y="259" width="169" height="1" fill="#000"/>
<rect x="514" y="258" width="11" height="1" fill="#fff2f2"/>
<rect x="514" y="260" width="11" height="1" fill="#ffe8e8"/>
<rect x="515" y="259" width="9" height="1" fill="#642428"/>
<rect x="528" y="258" width="11" height="1" fill="#fff2f2"/>
<rect x="528" y="260" width="11" height="1" fill="#ffe8e8"/>
<rect x="529" y="259" width="9" height="1" fill="#642428"/>
<rect x="542" y="258" width="11" height="1" fill="#fff2f2"/>
<rect x="542" y="260" width="11" height="1" fill="#ffe8e8"/>
<rect x="543" y="259" width="9" height="1" fill="#642428"/>
<rect x="556" y="258" width="11" height="1" fill="#fff2f2"/>
<rect x="556" y="260" width="11" height="1" fill="#ffe8e8"/>
<rect x="557" y="259" width="9" height="1" fill="#642428"/>
<rect x="570" y="258" width="11" height="1" fill="#fff2f2"/>
<rect x="570" y="260" width="11" height="1" fill="#ffe8e8"/>
<rect x="571" y="259" width="9" height="1" fill="#642428"/>
<rect x="584" y="258" width="11" height="1" fill="#fff2f2"/>
<rect x="584" y="260" width="11" height="1" fill="#ffe8e8"/>
<rect x="585" y="259" width="9" height="1" fill="#642428"/>
<rect x="598" y="258" width="11" height="1" fill="#fff2f2"/>
<rect x="598" y="260" width="11" height="1" fill="#ffe8e8"/>
<rect x="599" y="259" width="9" height="1" fill="#642428"/>
<rect x="612" y="258" width="11" height="1" fill="#fff2f2"/>
<rect x="612" y="260" width="11" height="1" fill="#ffe8e8"/>
<rect x="613" y="259" width="9" height="1" fill="#642428"/>
<rect x="626" y="258" width="11" height="1" fill="#fff2f2"/>
<rect x="626" y="260" width="11" height="1" fill="#ffe8e8"/>
<rect x="627" y="259" width="9" height="1" fill="#642428"/>
<rect x="640" y="258" width="11" height="1" fill="#fff2f2"/>
<rect x="640" y="260" width="11" height="1" fill="#ffe8e8"/>
<rect x="641" y="259" width="9" height="1" fill="#642428"/>
<rect x="654" y="258" width="11" height="1" fill="#fff2f2"/>
<rect x="654" y="260" width="11" height="1" fill="#ffe8e8"/>
<rect x="655" y="259" width="9" height="1" fill="#642428"/>
<rect x="668" y="258" width="11" height="1" fill="#fff2f2"/>
<rect x="668" y="260" width="11" height="1" fill="#ffe8e8"/>
<rect x="669" y="259" width="9" height="1" fill="#642428"/>
<rect x="512" y="229" width="1" height="31" fill="#000"/>
<rect x="526" y="229" width="1" height="31" fill="#000"/>
<rect x="540" y="229" width="1" height="31" fill="#000"/>
<rect x="554" y="229" width="1" height="31" fill="#000"/>
<rect x="568" y="229" width="1" height="31" fill="#000"/>
<rect x="582" y="229" width="1" height="31" fill="#000"/>
<rect x="596" y="229" width="1" height="31" fill="#000"/>
<rect x="610" y="229" width="1" height="31" fill="#000"/>
<rect x="624" y="229" width="1" height="31" fill="#000"/>
<rect x="638" y="229" width="1" height="31" fill="#000"/>
<rect x="652" y="229" width="1" height="31" fill="#000"/>
<rect x="666" y="229" width="1" height="31" fill="#000"/>
<rect x="680" y="229" width="1" height="31" fill="#000"/>
<rect x="681" y="229" width="1" height="17" fill="#000"/>
<rect x="512" y="278" width="169" height="1" fill="#000"/>
<rect x="514" y="277" width="11" height="1" fill="#ffe8e8"/>
<rect x="514" y="279" width="11" height="1" fill="#fff2f2"/>
<rect x="515" y="278" width="9" height="1" fill="#642428"/>
<rect x="528" y="277" width="11" height="1" fill="#ffe8e8"/>
<rect x="528" y="279" width="11" height="1" fill="#fff2f2"/>
<rect x="529" y="278" width="9" height="1" fill="#642428"/>
<rect x="542" y="277" width="11" height="1" fill="#ffe8e8"/>
<rect x="542" y="279" width="11" height="1" fill="#fff2f2"/>
<rect x="543" y="278" width="9" height="1" fill="#642428"/>
<rect x="556" y="277" width="11" height="1" fill="#ffe8e8"/>
<rect x="556" y="279" width="11" height="1" fill="#fff2f2"/>
<rect x="557" y="278" width="9" height="1" fill="#642428"/>
<rect x="570" y="277" width="11" height="1" fill="#ffe8e8"/>
<rect x="570" y="279" width="11" height="1" fill="#fff2f2"/>
<rect x="571" y="278" width="9" height="1" fill="#642428"/>
<rect x="584" y="277" width="11" height="1" fill="#ffe8e8"/>
<rect x="584" y="279" width="11" height="1" fill="#fff2f2"/>
<rect x="585" y="278" width="9" height="1" fill="#642428"/>
<rect x="598" y="277" width="11" height="1" fill="#ffe8e8"/>
<rect x="598" y="279" width="11" height="1" fill="#fff2f2"/>
<rect x="599" y="278" width="9" height="1" fill="#642428"/>
<rect x="612" y="277" width="11" height="1" fill="#ffe8e8"/>
<rect x="612" y="279" width="11" height="1" fill="#fff2f2"/>
<rect x="613" y="278" width="9" height="1" fill="#642428"/>
<rect x="626" y="277" width="11" height="1" fill="#ffe8e8"/>
<rect x="626" y="279" width="11" height="1" fill="#fff2f2"/>
<rect x="627" y="278" width="9" height="1" fill="#642428"/>
<rect x="640" y="277" width="11" height="1" fill="#ffe8e8"/>
<rect x="640" y="279" width="11" height="1" fill="#fff2f2"/>
<rect x="641" y="278" width="9" height="1" fill="#642428"/>
<rect x="654" y="277" width="11" height="1" fill="#ffe8e8"/>
<rect x="654" y="279" width="11" height="1" fill="#fff2f2"/>
<rect x="655" y="278" width="9" height="1" fill="#642428"/>
<rect x="668" y="277" width="11" height="1" fill="#ffe8e8"/>
<rect x="668" y="279" width="11" height="1" fill="#fff2f2"/>
<rect x="669" y="278" width="9" height="1" fill="#642428"/>
<rect x="512" y="293" width="169" height="1" fill="#000"/>
<rect x="512" y="278" width="1" height="16" fill="#000"/>
<rect x="526" y="278" width="1" height="16" fill="#000"/>
<rect x="540" y="278" width="1" height="16" fill="#000"/>
<rect x="554" y="278" width="1" height="16" fill="#000"/>
<rect x="568" y="278" width="1" height="16" fill="#000"/>
<rect x="582" y="278" width="1" height="16" fill="#000"/>
<rect x="596" y="278" width="1" height="16" fill="#000"/>
<rect x="610" y="278" width="1" height="16" fill="#000"/>
<rect x="624" y="278" width="1" height="16" fill="#000"/>
<rect x="638" y="278" width="1" height="16" fill="#000"/>
<rect x="652" y="278" width="1" height="16" fill="#000"/>
<rect x="666" y="278" width="1" height="16" fill="#000"/>
<rect x="680" y="278" width="1" height="16" fill="#000"/>
<rect x="679" y="213" width="14" height="14" fill="#000"/>
<rect x="680" y="214" width="12" height="12" fill="#3fdcd6"/>
<rect x="682" y="216" width="4" height="4" fill="#0b1238"/>
<rect x="683" y="220" width="2" height="1" fill="#0b1238"/>
<path d="M683 221h7v1h-1v2h-1v1h-3v-1h-1v-2h-1z" fill="#050a14"/>
<rect x="686" y="220" width="2" height="1" fill="#c8f4f0"/>
<rect x="680" y="262" width="14" height="14" fill="#000"/>
<rect x="681" y="263" width="12" height="12" fill="#3fdcd6"/>
<rect x="683" y="265" width="4" height="4" fill="#0b1238"/>
<rect x="684" y="269" width="2" height="1" fill="#0b1238"/>
<path d="M684 270h7v1h-1v2h-1v1h-3v-1h-1v-2h-1z" fill="#050a14"/>
<rect x="687" y="269" width="2" height="1" fill="#c8f4f0"/>
<rect x="428" y="194" width="84" height="1" fill="#000"/>
<rect x="413" y="195" width="99" height="1" fill="#000"/>
<rect x="413" y="293" width="99" height="1" fill="#000"/>
<rect x="413" y="294" width="99" height="1" fill="#000"/>
<rect x="413" y="194" width="1" height="101" fill="#000"/>
<rect x="414" y="194" width="1" height="101" fill="#000"/>
<rect x="510" y="194" width="1" height="101" fill="#000"/>
<rect x="511" y="194" width="1" height="101" fill="#000"/>
<rect x="432" y="194" width="12" height="2" fill="#d01818"/>
<rect x="432" y="293" width="12" height="2" fill="#9a2434"/>
<rect x="432" y="196" width="12" height="1" fill="#ffe8e8"/>
<rect x="432" y="292" width="12" height="1" fill="#ffe8e8"/>
<rect x="481" y="194" width="12" height="2" fill="#d01818"/>
<rect x="481" y="293" width="12" height="2" fill="#9a2434"/>
<rect x="481" y="196" width="12" height="1" fill="#ffe8e8"/>
<rect x="481" y="292" width="12" height="1" fill="#ffe8e8"/>
<rect x="413" y="215" width="2" height="11" fill="#8e2a30"/>
<rect x="413" y="263" width="2" height="14" fill="#8e2a30"/>
<rect x="510" y="212" width="1" height="13" fill="#d42020"/>
<rect x="510" y="261" width="1" height="13" fill="#d42020"/>
<rect x="415" y="215" width="1" height="11" fill="#ffe8e8"/>
<rect x="415" y="263" width="1" height="14" fill="#ffe8e8"/>
<rect x="509" y="212" width="1" height="13" fill="#ffe8e8"/>
<rect x="509" y="261" width="1" height="13" fill="#ffe8e8"/>
<rect x="421" y="199" width="2" height="1" fill="#000"/>
<rect x="421" y="207" width="2" height="1" fill="#000"/>
<rect x="418" y="200" width="8" height="1" fill="#000"/>
<rect x="418" y="206" width="8" height="1" fill="#000"/>
<rect x="418" y="201" width="8" height="5" fill="#45c8bc"/>
<rect x="417" y="202" width="1" height="3" fill="#000"/>
<rect x="426" y="202" width="1" height="3" fill="#000"/>
<rect x="418" y="201" width="1" height="1" fill="#0a3a36"/>
<rect x="425" y="201" width="1" height="1" fill="#0a3a36"/>
<rect x="418" y="205" width="1" height="1" fill="#0a3a36"/>
<rect x="425" y="205" width="1" height="1" fill="#0a3a36"/>
<rect x="419" y="202" width="1" height="3" fill="#021614"/>
<rect x="421" y="202" width="2" height="3" fill="#021614"/>
<rect x="424" y="202" width="2" height="3" fill="#021614"/>
<rect x="430" y="207" width="5" height="21" fill="#7f7f7f"/>
<rect x="431" y="209" width="1" height="2" fill="#c4c4c4"/>
<rect x="433" y="209" width="1" height="2" fill="#c4c4c4"/>
<rect x="431" y="213" width="1" height="2" fill="#c4c4c4"/>
<rect x="433" y="213" width="1" height="2" fill="#c4c4c4"/>
<rect x="431" y="217" width="1" height="2" fill="#c4c4c4"/>
<rect x="433" y="217" width="1" height="2" fill="#c4c4c4"/>
<rect x="431" y="221" width="1" height="2" fill="#c4c4c4"/>
<rect x="433" y="221" width="1" height="2" fill="#c4c4c4"/>
<rect x="431" y="225" width="1" height="2" fill="#c4c4c4"/>
<rect x="433" y="225" width="1" height="2" fill="#c4c4c4"/>
<rect x="430" y="243" width="5" height="21" fill="#7f7f7f"/>
<rect x="431" y="245" width="1" height="2" fill="#c4c4c4"/>
<rect x="433" y="245" width="1" height="2" fill="#c4c4c4"/>
<rect x="431" y="249" width="1" height="2" fill="#c4c4c4"/>
<rect x="433" y="249" width="1" height="2" fill="#c4c4c4"/>
<rect x="431" y="253" width="1" height="2" fill="#c4c4c4"/>
<rect x="433" y="253" width="1" height="2" fill="#c4c4c4"/>
<rect x="431" y="257" width="1" height="2" fill="#c4c4c4"/>
<rect x="433" y="257" width="1" height="2" fill="#c4c4c4"/>
<rect x="431" y="261" width="1" height="2" fill="#c4c4c4"/>
<rect x="433" y="261" width="1" height="2" fill="#c4c4c4"/>
<rect x="496" y="205" width="5" height="21" fill="#7f7f7f"/>
<rect x="497" y="207" width="1" height="2" fill="#c4c4c4"/>
<rect x="499" y="207" width="1" height="2" fill="#c4c4c4"/>
<rect x="497" y="211" width="1" height="2" fill="#c4c4c4"/>
<rect x="499" y="211" width="1" height="2" fill="#c4c4c4"/>
<rect x="497" y="215" width="1" height="2" fill="#c4c4c4"/>
<rect x="499" y="215" width="1" height="2" fill="#c4c4c4"/>
<rect x="497" y="219" width="1" height="2" fill="#c4c4c4"/>
<rect x="499" y="219" width="1" height="2" fill="#c4c4c4"/>
<rect x="497" y="223" width="1" height="2" fill="#c4c4c4"/>
<rect x="499" y="223" width="1" height="2" fill="#c4c4c4"/>
<rect x="496" y="244" width="5" height="21" fill="#7f7f7f"/>
<rect x="497" y="246" width="1" height="2" fill="#c4c4c4"/>
<rect x="499" y="246" width="1" height="2" fill="#c4c4c4"/>
<rect x="497" y="250" width="1" height="2" fill="#c4c4c4"/>
<rect x="499" y="250" width="1" height="2" fill="#c4c4c4"/>
<rect x="497" y="254" width="1" height="2" fill="#c4c4c4"/>
<rect x="499" y="254" width="1" height="2" fill="#c4c4c4"/>
<rect x="497" y="258" width="1" height="2" fill="#c4c4c4"/>
<rect x="499" y="258" width="1" height="2" fill="#c4c4c4"/>
<rect x="497" y="262" width="1" height="2" fill="#c4c4c4"/>
<rect x="499" y="262" width="1" height="2" fill="#c4c4c4"/>
<rect x="431" y="280" width="22" height="5" fill="#7f7f7f"/>
<rect x="433" y="281" width="2" height="1" fill="#c4c4c4"/>
<rect x="433" y="283" width="2" height="1" fill="#c4c4c4"/>
<rect x="437" y="281" width="2" height="1" fill="#c4c4c4"/>
<rect x="437" y="283" width="2" height="1" fill="#c4c4c4"/>
<rect x="441" y="281" width="2" height="1" fill="#c4c4c4"/>
<rect x="441" y="283" width="2" height="1" fill="#c4c4c4"/>
<rect x="445" y="281" width="2" height="1" fill="#c4c4c4"/>
<rect x="445" y="283" width="2" height="1" fill="#c4c4c4"/>
<rect x="449" y="281" width="2" height="1" fill="#c4c4c4"/>
<rect x="449" y="283" width="2" height="1" fill="#c4c4c4"/>
<rect x="472" y="279" width="22" height="5" fill="#7f7f7f"/>
<rect x="474" y="280" width="2" height="1" fill="#c4c4c4"/>
<rect x="474" y="282" width="2" height="1" fill="#c4c4c4"/>
<rect x="478" y="280" width="2" height="1" fill="#c4c4c4"/>
<rect x="478" y="282" width="2" height="1" fill="#c4c4c4"/>
<rect x="482" y="280" width="2" height="1" fill="#c4c4c4"/>
<rect x="482" y="282" width="2" height="1" fill="#c4c4c4"/>
<rect x="486" y="280" width="2" height="1" fill="#c4c4c4"/>
<rect x="486" y="282" width="2" height="1" fill="#c4c4c4"/>
<rect x="490" y="280" width="2" height="1" fill="#c4c4c4"/>
<rect x="490" y="282" width="2" height="1" fill="#c4c4c4"/>
<rect x="450" y="207" width="14" height="14" fill="#000"/>
<rect x="451" y="208" width="12" height="12" fill="#3fdcd6"/>
<rect x="453" y="210" width="4" height="4" fill="#0b1238"/>
<rect x="454" y="214" width="2" height="1" fill="#0b1238"/>
<path d="M454 215h7v1h-1v2h-1v1h-3v-1h-1v-2h-1z" fill="#050a14"/>
<rect x="457" y="214" width="2" height="1" fill="#c8f4f0"/>
<rect x="463" y="207" width="14" height="14" fill="#000"/>
<rect x="464" y="208" width="12" height="12" fill="#3fdcd6"/>
<rect x="466" y="210" width="4" height="4" fill="#0b1238"/>
<rect x="467" y="214" width="2" height="1" fill="#0b1238"/>
<path d="M467 215h7v1h-1v2h-1v1h-3v-1h-1v-2h-1z" fill="#050a14"/>
<rect x="470" y="214" width="2" height="1" fill="#c8f4f0"/>
<rect x="450" y="257" width="14" height="14" fill="#000"/>
<rect x="451" y="258" width="12" height="12" fill="#3fdcd6"/>
<rect x="453" y="260" width="4" height="4" fill="#0b1238"/>
<rect x="454" y="264" width="2" height="1" fill="#0b1238"/>
<path d="M454 265h7v1h-1v2h-1v1h-3v-1h-1v-2h-1z" fill="#050a14"/>
<rect x="457" y="264" width="2" height="1" fill="#c8f4f0"/>
<rect x="463" y="257" width="14" height="14" fill="#000"/>
<rect x="464" y="258" width="12" height="12" fill="#3fdcd6"/>
<rect x="466" y="260" width="4" height="4" fill="#0b1238"/>
<rect x="467" y="264" width="2" height="1" fill="#0b1238"/>
<path d="M467 265h7v1h-1v2h-1v1h-3v-1h-1v-2h-1z" fill="#050a14"/>
<rect x="470" y="264" width="2" height="1" fill="#c8f4f0"/>
<rect x="453" y="222" width="20" height="4" fill="#6b4c0c"/>
<rect x="454" y="223" width="18" height="2" fill="#86621a"/>
<rect x="454" y="223" width="3" height="3" fill="#96742c"/>
<rect x="455" y="224" width="1" height="1" fill="#6b4c0c"/>
<rect x="459" y="223" width="3" height="3" fill="#96742c"/>
<rect x="460" y="224" width="1" height="1" fill="#6b4c0c"/>
<rect x="464" y="223" width="3" height="3" fill="#96742c"/>
<rect x="465" y="224" width="1" height="1" fill="#6b4c0c"/>
<rect x="469" y="223" width="3" height="3" fill="#96742c"/>
<rect x="470" y="224" width="1" height="1" fill="#6b4c0c"/>
<rect x="476" y="220" width="6" height="8" fill="#000"/>
<rect x="477" y="221" width="4" height="6" fill="#62e2c4"/>
<rect x="478" y="222" width="2" height="1" fill="#0a3a2a"/>
<rect x="478" y="222" width="1" height="4" fill="#0a3a2a"/>
<rect x="478" y="225" width="2" height="1" fill="#0a3a2a"/>
<rect x="476" y="227" width="6" height="8" fill="#000"/>
<rect x="477" y="228" width="4" height="6" fill="#62e2c4"/>
<rect x="478" y="229" width="2" height="1" fill="#0a3a2a"/>
<rect x="478" y="229" width="1" height="4" fill="#0a3a2a"/>
<rect x="478" y="232" width="2" height="1" fill="#0a3a2a"/>
<rect x="481" y="220" width="7" height="11" fill="#000"/>
<rect x="482" y="221" width="5" height="9" fill="#1a1ed0"/>
<rect x="481" y="233" width="7" height="11" fill="#000"/>
<rect x="482" y="234" width="5" height="9" fill="#ee1ee0"/>
<rect x="481" y="247" width="7" height="11" fill="#000"/>
<rect x="482" y="248" width="5" height="9" fill="#f6ea20"/>
<rect x="450" y="220" width="1" height="38" fill="#000"/>
<rect x="450" y="235" width="13" height="22" fill="#000"/>
<rect x="453" y="237" width="8" height="7" fill="#fff"/>
<rect x="453" y="248" width="8" height="7" fill="#fff"/>
<rect x="461" y="237" width="1" height="18" fill="#6a1818"/>
<rect x="468" y="237" width="5" height="20" fill="#6b4c0c"/>
<rect x="469" y="238" width="3" height="18" fill="#86621a"/>
<rect x="469" y="238" width="3" height="3" fill="#96742c"/>
<rect x="470" y="239" width="1" height="1" fill="#6b4c0c"/>
<rect x="469" y="243" width="3" height="3" fill="#96742c"/>
<rect x="470" y="244" width="1" height="1" fill="#6b4c0c"/>
<rect x="469" y="248" width="3" height="3" fill="#96742c"/>
<rect x="470" y="249" width="1" height="1" fill="#6b4c0c"/>
<rect x="469" y="253" width="3" height="3" fill="#96742c"/>
<rect x="470" y="254" width="1" height="1" fill="#6b4c0c"/>
<rect x="476" y="237" width="5" height="20" fill="#6b4c0c"/>
<rect x="477" y="238" width="3" height="18" fill="#86621a"/>
<rect x="477" y="238" width="3" height="3" fill="#96742c"/>
<rect x="478" y="239" width="1" height="1" fill="#6b4c0c"/>
<rect x="477" y="243" width="3" height="3" fill="#96742c"/>
<rect x="478" y="244" width="1" height="1" fill="#6b4c0c"/>
<rect x="477" y="248" width="3" height="3" fill="#96742c"/>
<rect x="478" y="249" width="1" height="1" fill="#6b4c0c"/>
<rect x="477" y="253" width="3" height="3" fill="#96742c"/>
<rect x="478" y="254" width="1" height="1" fill="#6b4c0c"/>
<rect x="441" y="235" width="5" height="17" fill="#6a1010"/>
<rect x="446" y="248" width="5" height="4" fill="#6a1010"/>
<rect x="443" y="237" width="1" height="6" fill="#8a3a3a"/>
<rect x="414" y="278" width="7" height="11" fill="#000"/>
<rect x="415" y="279" width="5" height="9" fill="#10e020"/>
<rect x="504" y="279" width="7" height="11" fill="#000"/>
<rect x="505" y="280" width="5" height="9" fill="#18e070"/>
<ellipse cx="384.0" cy="171.0" rx="26.5" ry="23.5" fill="none" stroke="#000" stroke-width="1" shape-rendering="crispEdges"/>
<ellipse cx="541.0" cy="170.0" rx="26.5" ry="23.5" fill="none" stroke="#000" stroke-width="1" shape-rendering="crispEdges"/>
<ellipse cx="385.0" cy="321.0" rx="26.5" ry="23.5" fill="none" stroke="#000" stroke-width="1" shape-rendering="crispEdges"/>
<ellipse cx="542.0" cy="320.0" rx="26.5" ry="23.5" fill="none" stroke="#000" stroke-width="1" shape-rendering="crispEdges"/>
<rect x="92" y="477" width="13" height="12" fill="#000"/>
<rect x="95" y="479" width="8" height="8" fill="#fff"/>
<rect x="103" y="479" width="2" height="8" fill="#5a1a1a"/>
<rect x="73" y="501" width="34" height="13" fill="#000"/>
<rect x="74" y="502" width="1" height="10" fill="#fff"/>
<rect x="76" y="502" width="1" height="10" fill="#fff"/>
<rect x="78" y="502" width="1" height="10" fill="#fff"/>
<rect x="80" y="502" width="1" height="10" fill="#fff"/>
<rect x="82" y="502" width="1" height="10" fill="#fff"/>
<rect x="84" y="502" width="1" height="10" fill="#fff"/>
<rect x="86" y="502" width="1" height="10" fill="#fff"/>
<rect x="88" y="502" width="1" height="10" fill="#fff"/>
<rect x="90" y="502" width="1" height="10" fill="#fff"/>
<rect x="92" y="502" width="1" height="10" fill="#fff"/>
<rect x="94" y="502" width="1" height="10" fill="#fff"/>
<rect x="96" y="502" width="1" height="10" fill="#fff"/>
<rect x="98" y="502" width="1" height="10" fill="#fff"/>
<rect x="102" y="502" width="4" height="10" fill="#fff"/>
<rect x="93" y="521" width="5" height="21" fill="#7f7f7f"/>
<rect x="94" y="523" width="1" height="2" fill="#c4c4c4"/>
<rect x="96" y="523" width="1" height="2" fill="#c4c4c4"/>
<rect x="94" y="527" width="1" height="2" fill="#c4c4c4"/>
<rect x="96" y="527" width="1" height="2" fill="#c4c4c4"/>
<rect x="94" y="531" width="1" height="2" fill="#c4c4c4"/>
<rect x="96" y="531" width="1" height="2" fill="#c4c4c4"/>
<rect x="94" y="535" width="1" height="2" fill="#c4c4c4"/>
<rect x="96" y="535" width="1" height="2" fill="#c4c4c4"/>
<rect x="94" y="539" width="1" height="2" fill="#c4c4c4"/>
<rect x="96" y="539" width="1" height="2" fill="#c4c4c4"/>
<rect x="80" y="547" width="6" height="19" fill="#6a1010"/>
<rect x="86" y="560" width="5" height="6" fill="#6a1010"/>
<rect x="92" y="547" width="10" height="5" fill="#6a1010"/>
<rect x="96" y="547" width="6" height="19" fill="#6a1010"/>
<rect x="213" y="461" width="7" height="31" fill="#000"/>
<rect x="214" y="462" width="5" height="9" fill="#2a6fe0"/>
<rect x="214" y="472" width="5" height="9" fill="#e01414"/>
<rect x="214" y="482" width="5" height="9" fill="#28d486"/>
<rect x="212" y="498" width="14" height="14" fill="#000"/>
<rect x="213" y="499" width="12" height="12" fill="#3fdcd6"/>
<rect x="215" y="501" width="4" height="4" fill="#0b1238"/>
<rect x="216" y="505" width="2" height="1" fill="#0b1238"/>
<path d="M216 506h7v1h-1v2h-1v1h-3v-1h-1v-2h-1z" fill="#050a14"/>
<rect x="219" y="505" width="2" height="1" fill="#c8f4f0"/>
<rect x="217" y="525" width="5" height="8" fill="#2a1414"/>
<rect x="219" y="527" width="1" height="4" fill="#8a6a6a"/>
<rect x="217" y="552" width="9" height="6" fill="#5a5a5a"/>
<rect x="219" y="554" width="5" height="1" fill="#0a0a0a"/>
<rect x="219" y="556" width="5" height="1" fill="#0a0a0a"/>
<rect x="326" y="468" width="15" height="7" fill="#1a0f00"/>
<rect x="327" y="469" width="13" height="5" fill="#7f6e3e"/>
<rect x="336" y="469" width="3" height="5" fill="#f6efa6"/>
<rect x="312" y="489" width="29" height="5" fill="#6b4c0c"/>
<rect x="313" y="490" width="27" height="3" fill="#86621a"/>
<rect x="313" y="490" width="3" height="3" fill="#96742c"/>
<rect x="314" y="491" width="1" height="1" fill="#6b4c0c"/>
<rect x="318" y="490" width="3" height="3" fill="#96742c"/>
<rect x="319" y="491" width="1" height="1" fill="#6b4c0c"/>
<rect x="323" y="490" width="3" height="3" fill="#96742c"/>
<rect x="324" y="491" width="1" height="1" fill="#6b4c0c"/>
<rect x="328" y="490" width="3" height="3" fill="#96742c"/>
<rect x="329" y="491" width="1" height="1" fill="#6b4c0c"/>
<rect x="333" y="490" width="3" height="3" fill="#96742c"/>
<rect x="334" y="491" width="1" height="1" fill="#6b4c0c"/>
<rect x="334" y="505" width="2" height="1" fill="#000"/>
<rect x="334" y="513" width="2" height="1" fill="#000"/>
<rect x="331" y="506" width="8" height="1" fill="#000"/>
<rect x="331" y="512" width="8" height="1" fill="#000"/>
<rect x="331" y="507" width="8" height="5" fill="#45c8bc"/>
<rect x="330" y="508" width="1" height="3" fill="#000"/>
<rect x="339" y="508" width="1" height="3" fill="#000"/>
<rect x="331" y="507" width="1" height="1" fill="#0a3a36"/>
<rect x="338" y="507" width="1" height="1" fill="#0a3a36"/>
<rect x="331" y="511" width="1" height="1" fill="#0a3a36"/>
<rect x="338" y="511" width="1" height="1" fill="#0a3a36"/>
<rect x="332" y="508" width="1" height="3" fill="#021614"/>
<rect x="334" y="508" width="2" height="3" fill="#021614"/>
<rect x="337" y="508" width="2" height="3" fill="#021614"/>
<rect x="333" y="523" width="2" height="15" fill="#7a3030"/>
<rect x="333" y="523" width="2" height="3" fill="#000"/>
<rect x="333" y="535" width="2" height="3" fill="#000"/>
<rect x="332" y="526" width="1" height="9" fill="#ffe8e8"/>
<rect x="335" y="526" width="1" height="9" fill="#ffe8e8"/>
<rect x="329" y="550" width="6" height="8" fill="#000"/>
<rect x="330" y="551" width="4" height="6" fill="#62e2c4"/>
<rect x="331" y="552" width="2" height="1" fill="#0a3a2a"/>
<rect x="331" y="552" width="1" height="4" fill="#0a3a2a"/>
<rect x="331" y="555" width="2" height="1" fill="#0a3a2a"/>
</g>
<g id="labels">
<text x="105" y="38" font-family='"Liberation Serif", serif' font-size="13" fill="#1c5a1c" textLength="262" lengthAdjust="spacing" stroke="#1c5a1c" stroke-width="0.15">FRAKTURE FALLZ MEDICAL FACILITY 08</text>
<text x="104" y="51" font-family='"Liberation Sans", sans-serif' font-size="11.5" font-weight="bold" fill="#126412" textLength="93.3" lengthAdjust="spacing" stroke="#126412" stroke-width="0.25">Basement level 2</text>
<text x="723" y="78" font-family='"Liberation Sans", sans-serif' font-size="13" fill="#000" textLength="176" lengthAdjust="spacing" stroke="#000" stroke-width="0.15">1. Entrance/Exit + records and</text>
<text x="722.5" y="94" font-family='"Liberation Sans", sans-serif' font-size="13" fill="#000" textLength="91" lengthAdjust="spacing" stroke="#000" stroke-width="0.15">medical storage</text>
<text x="718" y="126" font-family='"Liberation Sans", sans-serif' font-size="13" fill="#000" textLength="191.4" lengthAdjust="spacing" stroke="#000" stroke-width="0.15">2. Level 3 Ward (trusted patients)</text>
<text x="718" y="158" font-family='"Liberation Sans", sans-serif' font-size="13" fill="#000" textLength="200.8" lengthAdjust="spacing" stroke="#000" stroke-width="0.15">3. Level 2 Ward (Criminally Insane)</text>
<text x="718" y="190" font-family='"Liberation Sans", sans-serif' font-size="13" fill="#000" textLength="166.3" lengthAdjust="spacing" stroke="#000" stroke-width="0.15">4. Level 2 Ward (Psychotics)</text>
<text x="718" y="222" font-family='"Liberation Sans", sans-serif' font-size="13" fill="#000" textLength="154" lengthAdjust="spacing" stroke="#000" stroke-width="0.15">5. Level 1 Ward (Lobotomy</text>
<text x="734.2" y="238" font-family='"Liberation Sans", sans-serif' font-size="13" fill="#000" textLength="49" lengthAdjust="spacing" stroke="#000" stroke-width="0.15">patients)</text>
<text x="718" y="270" font-family='"Liberation Sans", sans-serif' font-size="13" fill="#000" textLength="72.2" lengthAdjust="spacing" stroke="#000" stroke-width="0.15">6. Chimneys</text>
<text x="718" y="302" font-family='"Liberation Sans", sans-serif' font-size="13" fill="#000" textLength="88.7" lengthAdjust="spacing" stroke="#000" stroke-width="0.15">7. Storage area</text>
<text x="111.5" y="487" font-family='"Liberation Sans", sans-serif' font-size="11" fill="#000" textLength="54.5" lengthAdjust="spacingAndGlyphs" stroke="#000" stroke-width="0.3">ELEVATOR</text>
<text x="111.5" y="512" font-family='"Liberation Sans", sans-serif' font-size="11" fill="#000" textLength="36.5" lengthAdjust="spacingAndGlyphs" stroke="#000" stroke-width="0.3">STAIRS</text>
<text x="110.5" y="537" font-family='"Liberation Sans", sans-serif' font-size="11" fill="#000" textLength="75.5" lengthAdjust="spacingAndGlyphs" stroke="#000" stroke-width="0.3">SEATING RANK</text>
<text x="109.5" y="561" font-family='"Liberation Sans", sans-serif' font-size="11" fill="#000" textLength="84.5" lengthAdjust="spacingAndGlyphs" stroke="#000" stroke-width="0.3">RECEPTION DESK</text>
<text x="225" y="481" font-family='"Liberation Sans", sans-serif' font-size="11" fill="#000" textLength="47.5" lengthAdjust="spacingAndGlyphs" stroke="#000" stroke-width="0.3">VENDERS</text>
<text x="229" y="509" font-family='"Liberation Sans", sans-serif' font-size="11" fill="#000" textLength="33.3" lengthAdjust="spacingAndGlyphs" stroke="#000" stroke-width="0.3">TOILET</text>
<text x="230" y="534" font-family='"Liberation Sans", sans-serif' font-size="11" fill="#000" textLength="61" lengthAdjust="spacingAndGlyphs" stroke="#000" stroke-width="0.3">WORK DESK</text>
<text x="231.5" y="560" font-family='"Liberation Sans", sans-serif' font-size="11" fill="#000" textLength="40.6" lengthAdjust="spacingAndGlyphs" stroke="#000" stroke-width="0.3">LOCKER</text>
<text x="347.5" y="476" font-family='"Liberation Sans", sans-serif' font-size="11" fill="#000" textLength="50.6" lengthAdjust="spacingAndGlyphs" stroke="#000" stroke-width="0.3">BED/BUNK</text>
<text x="346.5" y="495" font-family='"Liberation Sans", sans-serif' font-size="11" fill="#000" textLength="83.7" lengthAdjust="spacingAndGlyphs" stroke="#000" stroke-width="0.3">FILING CABINETS</text>
<text x="351" y="514" font-family='"Liberation Sans", sans-serif' font-size="11" fill="#000" textLength="40.3" lengthAdjust="spacingAndGlyphs" stroke="#000" stroke-width="0.3">LADDER</text>
<text x="345.5" y="534" font-family='"Liberation Sans", sans-serif' font-size="11" fill="#000" textLength="29.7" lengthAdjust="spacingAndGlyphs" stroke="#000" stroke-width="0.3">DOOR</text>
<text x="342.5" y="559" font-family='"Liberation Sans", sans-serif' font-size="11" fill="#000" textLength="65.8" lengthAdjust="spacingAndGlyphs" stroke="#000" stroke-width="0.3">FONE BOOTH</text>
<text x="438.3" y="135" font-family='"Liberation Serif", serif' font-size="15" font-weight="bold" fill="#000" text-anchor="middle">3</text>
<text x="484.3" y="134.5" font-family='"Liberation Serif", serif' font-size="15" font-weight="bold" fill="#000" text-anchor="middle">3</text>
<text x="598" y="223.8" font-family='"Liberation Serif", serif' font-size="15" font-weight="bold" fill="#000" text-anchor="middle">4</text>
<text x="597" y="271" font-family='"Liberation Serif", serif' font-size="15" font-weight="bold" fill="#000" text-anchor="middle">4</text>
<text x="384.8" y="174" font-family='"Liberation Serif", serif' font-size="15" font-weight="bold" fill="#000" text-anchor="middle">6</text>
<text x="538.8" y="176" font-family='"Liberation Serif", serif' font-size="15" font-weight="bold" fill="#000" text-anchor="middle">6</text>
<text x="384.8" y="326.8" font-family='"Liberation Serif", serif' font-size="15" font-weight="bold" fill="#000" text-anchor="middle">6</text>
<text x="540" y="326.3" font-family='"Liberation Serif", serif' font-size="15" font-weight="bold" fill="#000" text-anchor="middle">6</text>
<text x="437" y="381" font-family='"Liberation Serif", serif' font-size="15" font-weight="bold" fill="#000" text-anchor="middle">2</text>
<text x="486" y="382.5" font-family='"Liberation Serif", serif' font-size="15" font-weight="bold" fill="#000" text-anchor="middle">5</text>
<text x="333" y="228" font-family='"Liberation Sans", sans-serif' font-size="13" fill="#000" text-anchor="middle" stroke="#000" stroke-width="0.3">2</text>
<text x="331" y="275.5" font-family='"Liberation Sans", sans-serif' font-size="13" fill="#000" text-anchor="middle" stroke="#000" stroke-width="0.3">2</text>
<text x="464.3" y="239" font-family='"Liberation Sans", sans-serif' font-size="13.5" fill="#000" text-anchor="middle" stroke="#000" stroke-width="0.7">1</text>
<text x="441" y="270.2" font-family='"Liberation Sans", sans-serif' font-size="13.5" fill="#000" text-anchor="middle" stroke="#000" stroke-width="0.7">7</text>
</g>
</svg>
</body>
</html>
